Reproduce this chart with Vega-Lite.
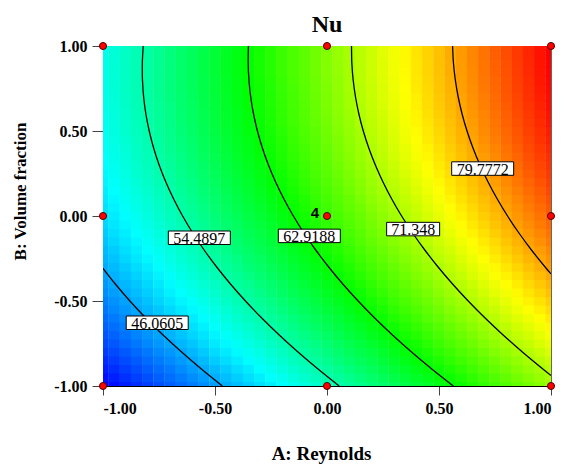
{
"$schema":"https://vega.github.io/schema/vega-lite/v6.json",
"width":448,"height":340,
"autosize":{"type":"none"},
"padding":{"left":103,"top":46,"right":13,"bottom":78},
"background":"white",
"title":{"text":"Nu","font":"Liberation Serif","fontSize":24,"fontWeight":"bold","color":"#000","anchor":"middle","offset":1,"frame":"group"},
"config":{"view":{"stroke":"#666","strokeWidth":1},"font":"Liberation Serif","title":{"font":"Liberation Serif"}},
"datasets":{
"grid":[
{"a":-1,"b":-1,"nu":37.7},{"a":-0.95,"b":-1,"nu":38.4},{"a":-0.9,"b":-1,"nu":39.2},{"a":-0.85,"b":-1,"nu":40.0},{"a":-0.8,"b":-1,"nu":40.8},{"a":-0.75,"b":-1,"nu":41.6},{"a":-0.7,"b":-1,"nu":42.4},{"a":-0.65,"b":-1,"nu":43.1},{"a":-0.6,"b":-1,"nu":43.9},{"a":-0.55,"b":-1,"nu":44.7},{"a":-0.5,"b":-1,"nu":45.5},{"a":-0.45,"b":-1,"nu":46.3},{"a":-0.4,"b":-1,"nu":47.1},{"a":-0.35,"b":-1,"nu":47.9},{"a":-0.3,"b":-1,"nu":48.7},{"a":-0.25,"b":-1,"nu":49.5},{"a":-0.2,"b":-1,"nu":50.3},{"a":-0.15,"b":-1,"nu":51.2},{"a":-0.1,"b":-1,"nu":52.0},{"a":-0.05,"b":-1,"nu":52.8},{"a":0,"b":-1,"nu":53.6},{"a":0.05,"b":-1,"nu":54.4},{"a":0.1,"b":-1,"nu":55.2},{"a":0.15,"b":-1,"nu":56.0},{"a":0.2,"b":-1,"nu":56.9},{"a":0.25,"b":-1,"nu":57.7},{"a":0.3,"b":-1,"nu":58.5},{"a":0.35,"b":-1,"nu":59.4},{"a":0.4,"b":-1,"nu":60.2},{"a":0.45,"b":-1,"nu":61.0},{"a":0.5,"b":-1,"nu":61.9},{"a":0.55,"b":-1,"nu":62.7},{"a":0.6,"b":-1,"nu":63.5},{"a":0.65,"b":-1,"nu":64.4},{"a":0.7,"b":-1,"nu":65.2},{"a":0.75,"b":-1,"nu":66.1},{"a":0.8,"b":-1,"nu":66.9},{"a":0.85,"b":-1,"nu":67.8},{"a":0.9,"b":-1,"nu":68.6},{"a":0.95,"b":-1,"nu":69.5},{"a":1,"b":-1,"nu":70.3},
{"a":-1,"b":-0.95,"nu":38.4},{"a":-0.95,"b":-0.95,"nu":39.2},{"a":-0.9,"b":-0.95,"nu":40.0},{"a":-0.85,"b":-0.95,"nu":40.8},{"a":-0.8,"b":-0.95,"nu":41.6},{"a":-0.75,"b":-0.95,"nu":42.4},{"a":-0.7,"b":-0.95,"nu":43.1},{"a":-0.65,"b":-0.95,"nu":43.9},{"a":-0.6,"b":-0.95,"nu":44.7},{"a":-0.55,"b":-0.95,"nu":45.5},{"a":-0.5,"b":-0.95,"nu":46.3},{"a":-0.45,"b":-0.95,"nu":47.1},{"a":-0.4,"b":-0.95,"nu":47.9},{"a":-0.35,"b":-0.95,"nu":48.7},{"a":-0.3,"b":-0.95,"nu":49.5},{"a":-0.25,"b":-0.95,"nu":50.3},{"a":-0.2,"b":-0.95,"nu":51.1},{"a":-0.15,"b":-0.95,"nu":52.0},{"a":-0.1,"b":-0.95,"nu":52.8},{"a":-0.05,"b":-0.95,"nu":53.6},{"a":0,"b":-0.95,"nu":54.4},{"a":0.05,"b":-0.95,"nu":55.2},{"a":0.1,"b":-0.95,"nu":56.0},{"a":0.15,"b":-0.95,"nu":56.8},{"a":0.2,"b":-0.95,"nu":57.7},{"a":0.25,"b":-0.95,"nu":58.5},{"a":0.3,"b":-0.95,"nu":59.3},{"a":0.35,"b":-0.95,"nu":60.2},{"a":0.4,"b":-0.95,"nu":61.0},{"a":0.45,"b":-0.95,"nu":61.8},{"a":0.5,"b":-0.95,"nu":62.7},{"a":0.55,"b":-0.95,"nu":63.5},{"a":0.6,"b":-0.95,"nu":64.3},{"a":0.65,"b":-0.95,"nu":65.2},{"a":0.7,"b":-0.95,"nu":66.0},{"a":0.75,"b":-0.95,"nu":66.9},{"a":0.8,"b":-0.95,"nu":67.7},{"a":0.85,"b":-0.95,"nu":68.6},{"a":0.9,"b":-0.95,"nu":69.5},{"a":0.95,"b":-0.95,"nu":70.3},{"a":1,"b":-0.95,"nu":71.2},
{"a":-1,"b":-0.9,"nu":39.1},{"a":-0.95,"b":-0.9,"nu":39.9},{"a":-0.9,"b":-0.9,"nu":40.7},{"a":-0.85,"b":-0.9,"nu":41.5},{"a":-0.8,"b":-0.9,"nu":42.3},{"a":-0.75,"b":-0.9,"nu":43.1},{"a":-0.7,"b":-0.9,"nu":43.8},{"a":-0.65,"b":-0.9,"nu":44.6},{"a":-0.6,"b":-0.9,"nu":45.4},{"a":-0.55,"b":-0.9,"nu":46.2},{"a":-0.5,"b":-0.9,"nu":47.0},{"a":-0.45,"b":-0.9,"nu":47.8},{"a":-0.4,"b":-0.9,"nu":48.6},{"a":-0.35,"b":-0.9,"nu":49.4},{"a":-0.3,"b":-0.9,"nu":50.3},{"a":-0.25,"b":-0.9,"nu":51.1},{"a":-0.2,"b":-0.9,"nu":51.9},{"a":-0.15,"b":-0.9,"nu":52.7},{"a":-0.1,"b":-0.9,"nu":53.5},{"a":-0.05,"b":-0.9,"nu":54.3},{"a":0,"b":-0.9,"nu":55.1},{"a":0.05,"b":-0.9,"nu":56.0},{"a":0.1,"b":-0.9,"nu":56.8},{"a":0.15,"b":-0.9,"nu":57.6},{"a":0.2,"b":-0.9,"nu":58.4},{"a":0.25,"b":-0.9,"nu":59.3},{"a":0.3,"b":-0.9,"nu":60.1},{"a":0.35,"b":-0.9,"nu":60.9},{"a":0.4,"b":-0.9,"nu":61.8},{"a":0.45,"b":-0.9,"nu":62.6},{"a":0.5,"b":-0.9,"nu":63.5},{"a":0.55,"b":-0.9,"nu":64.3},{"a":0.6,"b":-0.9,"nu":65.1},{"a":0.65,"b":-0.9,"nu":66.0},{"a":0.7,"b":-0.9,"nu":66.8},{"a":0.75,"b":-0.9,"nu":67.7},{"a":0.8,"b":-0.9,"nu":68.5},{"a":0.85,"b":-0.9,"nu":69.4},{"a":0.9,"b":-0.9,"nu":70.3},{"a":0.95,"b":-0.9,"nu":71.1},{"a":1,"b":-0.9,"nu":72.0},
{"a":-1,"b":-0.85,"nu":39.8},{"a":-0.95,"b":-0.85,"nu":40.6},{"a":-0.9,"b":-0.85,"nu":41.4},{"a":-0.85,"b":-0.85,"nu":42.2},{"a":-0.8,"b":-0.85,"nu":43.0},{"a":-0.75,"b":-0.85,"nu":43.8},{"a":-0.7,"b":-0.85,"nu":44.5},{"a":-0.65,"b":-0.85,"nu":45.3},{"a":-0.6,"b":-0.85,"nu":46.1},{"a":-0.55,"b":-0.85,"nu":47.0},{"a":-0.5,"b":-0.85,"nu":47.8},{"a":-0.45,"b":-0.85,"nu":48.6},{"a":-0.4,"b":-0.85,"nu":49.4},{"a":-0.35,"b":-0.85,"nu":50.2},{"a":-0.3,"b":-0.85,"nu":51.0},{"a":-0.25,"b":-0.85,"nu":51.8},{"a":-0.2,"b":-0.85,"nu":52.6},{"a":-0.15,"b":-0.85,"nu":53.5},{"a":-0.1,"b":-0.85,"nu":54.3},{"a":-0.05,"b":-0.85,"nu":55.1},{"a":0,"b":-0.85,"nu":55.9},{"a":0.05,"b":-0.85,"nu":56.8},{"a":0.1,"b":-0.85,"nu":57.6},{"a":0.15,"b":-0.85,"nu":58.4},{"a":0.2,"b":-0.85,"nu":59.2},{"a":0.25,"b":-0.85,"nu":60.1},{"a":0.3,"b":-0.85,"nu":60.9},{"a":0.35,"b":-0.85,"nu":61.7},{"a":0.4,"b":-0.85,"nu":62.6},{"a":0.45,"b":-0.85,"nu":63.4},{"a":0.5,"b":-0.85,"nu":64.3},{"a":0.55,"b":-0.85,"nu":65.1},{"a":0.6,"b":-0.85,"nu":65.9},{"a":0.65,"b":-0.85,"nu":66.8},{"a":0.7,"b":-0.85,"nu":67.6},{"a":0.75,"b":-0.85,"nu":68.5},{"a":0.8,"b":-0.85,"nu":69.3},{"a":0.85,"b":-0.85,"nu":70.2},{"a":0.9,"b":-0.85,"nu":71.1},{"a":0.95,"b":-0.85,"nu":71.9},{"a":1,"b":-0.85,"nu":72.8},
{"a":-1,"b":-0.8,"nu":40.5},{"a":-0.95,"b":-0.8,"nu":41.3},{"a":-0.9,"b":-0.8,"nu":42.1},{"a":-0.85,"b":-0.8,"nu":42.9},{"a":-0.8,"b":-0.8,"nu":43.7},{"a":-0.75,"b":-0.8,"nu":44.5},{"a":-0.7,"b":-0.8,"nu":45.2},{"a":-0.65,"b":-0.8,"nu":46.0},{"a":-0.6,"b":-0.8,"nu":46.8},{"a":-0.55,"b":-0.8,"nu":47.7},{"a":-0.5,"b":-0.8,"nu":48.5},{"a":-0.45,"b":-0.8,"nu":49.3},{"a":-0.4,"b":-0.8,"nu":50.1},{"a":-0.35,"b":-0.8,"nu":50.9},{"a":-0.3,"b":-0.8,"nu":51.7},{"a":-0.25,"b":-0.8,"nu":52.5},{"a":-0.2,"b":-0.8,"nu":53.3},{"a":-0.15,"b":-0.8,"nu":54.2},{"a":-0.1,"b":-0.8,"nu":55.0},{"a":-0.05,"b":-0.8,"nu":55.8},{"a":0,"b":-0.8,"nu":56.6},{"a":0.05,"b":-0.8,"nu":57.5},{"a":0.1,"b":-0.8,"nu":58.3},{"a":0.15,"b":-0.8,"nu":59.1},{"a":0.2,"b":-0.8,"nu":59.9},{"a":0.25,"b":-0.8,"nu":60.8},{"a":0.3,"b":-0.8,"nu":61.6},{"a":0.35,"b":-0.8,"nu":62.5},{"a":0.4,"b":-0.8,"nu":63.3},{"a":0.45,"b":-0.8,"nu":64.1},{"a":0.5,"b":-0.8,"nu":65.0},{"a":0.55,"b":-0.8,"nu":65.8},{"a":0.6,"b":-0.8,"nu":66.7},{"a":0.65,"b":-0.8,"nu":67.5},{"a":0.7,"b":-0.8,"nu":68.4},{"a":0.75,"b":-0.8,"nu":69.3},{"a":0.8,"b":-0.8,"nu":70.1},{"a":0.85,"b":-0.8,"nu":71.0},{"a":0.9,"b":-0.8,"nu":71.8},{"a":0.95,"b":-0.8,"nu":72.7},{"a":1,"b":-0.8,"nu":73.6},
{"a":-1,"b":-0.75,"nu":41.2},{"a":-0.95,"b":-0.75,"nu":42.0},{"a":-0.9,"b":-0.75,"nu":42.8},{"a":-0.85,"b":-0.75,"nu":43.6},{"a":-0.8,"b":-0.75,"nu":44.4},{"a":-0.75,"b":-0.75,"nu":45.2},{"a":-0.7,"b":-0.75,"nu":45.9},{"a":-0.65,"b":-0.75,"nu":46.7},{"a":-0.6,"b":-0.75,"nu":47.5},{"a":-0.55,"b":-0.75,"nu":48.4},{"a":-0.5,"b":-0.75,"nu":49.2},{"a":-0.45,"b":-0.75,"nu":50.0},{"a":-0.4,"b":-0.75,"nu":50.8},{"a":-0.35,"b":-0.75,"nu":51.6},{"a":-0.3,"b":-0.75,"nu":52.4},{"a":-0.25,"b":-0.75,"nu":53.2},{"a":-0.2,"b":-0.75,"nu":54.0},{"a":-0.15,"b":-0.75,"nu":54.9},{"a":-0.1,"b":-0.75,"nu":55.7},{"a":-0.05,"b":-0.75,"nu":56.5},{"a":0,"b":-0.75,"nu":57.3},{"a":0.05,"b":-0.75,"nu":58.2},{"a":0.1,"b":-0.75,"nu":59.0},{"a":0.15,"b":-0.75,"nu":59.8},{"a":0.2,"b":-0.75,"nu":60.7},{"a":0.25,"b":-0.75,"nu":61.5},{"a":0.3,"b":-0.75,"nu":62.3},{"a":0.35,"b":-0.75,"nu":63.2},{"a":0.4,"b":-0.75,"nu":64.0},{"a":0.45,"b":-0.75,"nu":64.9},{"a":0.5,"b":-0.75,"nu":65.7},{"a":0.55,"b":-0.75,"nu":66.6},{"a":0.6,"b":-0.75,"nu":67.4},{"a":0.65,"b":-0.75,"nu":68.3},{"a":0.7,"b":-0.75,"nu":69.2},{"a":0.75,"b":-0.75,"nu":70.0},{"a":0.8,"b":-0.75,"nu":70.9},{"a":0.85,"b":-0.75,"nu":71.8},{"a":0.9,"b":-0.75,"nu":72.6},{"a":0.95,"b":-0.75,"nu":73.5},{"a":1,"b":-0.75,"nu":74.4},
{"a":-1,"b":-0.7,"nu":41.8},{"a":-0.95,"b":-0.7,"nu":42.6},{"a":-0.9,"b":-0.7,"nu":43.4},{"a":-0.85,"b":-0.7,"nu":44.2},{"a":-0.8,"b":-0.7,"nu":45.0},{"a":-0.75,"b":-0.7,"nu":45.8},{"a":-0.7,"b":-0.7,"nu":46.6},{"a":-0.65,"b":-0.7,"nu":47.4},{"a":-0.6,"b":-0.7,"nu":48.2},{"a":-0.55,"b":-0.7,"nu":49.0},{"a":-0.5,"b":-0.7,"nu":49.8},{"a":-0.45,"b":-0.7,"nu":50.6},{"a":-0.4,"b":-0.7,"nu":51.4},{"a":-0.35,"b":-0.7,"nu":52.2},{"a":-0.3,"b":-0.7,"nu":53.1},{"a":-0.25,"b":-0.7,"nu":53.9},{"a":-0.2,"b":-0.7,"nu":54.7},{"a":-0.15,"b":-0.7,"nu":55.5},{"a":-0.1,"b":-0.7,"nu":56.4},{"a":-0.05,"b":-0.7,"nu":57.2},{"a":0,"b":-0.7,"nu":58.0},{"a":0.05,"b":-0.7,"nu":58.9},{"a":0.1,"b":-0.7,"nu":59.7},{"a":0.15,"b":-0.7,"nu":60.5},{"a":0.2,"b":-0.7,"nu":61.4},{"a":0.25,"b":-0.7,"nu":62.2},{"a":0.3,"b":-0.7,"nu":63.0},{"a":0.35,"b":-0.7,"nu":63.9},{"a":0.4,"b":-0.7,"nu":64.7},{"a":0.45,"b":-0.7,"nu":65.6},{"a":0.5,"b":-0.7,"nu":66.4},{"a":0.55,"b":-0.7,"nu":67.3},{"a":0.6,"b":-0.7,"nu":68.1},{"a":0.65,"b":-0.7,"nu":69.0},{"a":0.7,"b":-0.7,"nu":69.9},{"a":0.75,"b":-0.7,"nu":70.7},{"a":0.8,"b":-0.7,"nu":71.6},{"a":0.85,"b":-0.7,"nu":72.5},{"a":0.9,"b":-0.7,"nu":73.3},{"a":0.95,"b":-0.7,"nu":74.2},{"a":1,"b":-0.7,"nu":75.1},
{"a":-1,"b":-0.65,"nu":42.4},{"a":-0.95,"b":-0.65,"nu":43.2},{"a":-0.9,"b":-0.65,"nu":44.0},{"a":-0.85,"b":-0.65,"nu":44.8},{"a":-0.8,"b":-0.65,"nu":45.6},{"a":-0.75,"b":-0.65,"nu":46.4},{"a":-0.7,"b":-0.65,"nu":47.2},{"a":-0.65,"b":-0.65,"nu":48.0},{"a":-0.6,"b":-0.65,"nu":48.8},{"a":-0.55,"b":-0.65,"nu":49.6},{"a":-0.5,"b":-0.65,"nu":50.5},{"a":-0.45,"b":-0.65,"nu":51.3},{"a":-0.4,"b":-0.65,"nu":52.1},{"a":-0.35,"b":-0.65,"nu":52.9},{"a":-0.3,"b":-0.65,"nu":53.7},{"a":-0.25,"b":-0.65,"nu":54.6},{"a":-0.2,"b":-0.65,"nu":55.4},{"a":-0.15,"b":-0.65,"nu":56.2},{"a":-0.1,"b":-0.65,"nu":57.1},{"a":-0.05,"b":-0.65,"nu":57.9},{"a":0,"b":-0.65,"nu":58.7},{"a":0.05,"b":-0.65,"nu":59.6},{"a":0.1,"b":-0.65,"nu":60.4},{"a":0.15,"b":-0.65,"nu":61.2},{"a":0.2,"b":-0.65,"nu":62.1},{"a":0.25,"b":-0.65,"nu":62.9},{"a":0.3,"b":-0.65,"nu":63.7},{"a":0.35,"b":-0.65,"nu":64.6},{"a":0.4,"b":-0.65,"nu":65.4},{"a":0.45,"b":-0.65,"nu":66.3},{"a":0.5,"b":-0.65,"nu":67.1},{"a":0.55,"b":-0.65,"nu":68.0},{"a":0.6,"b":-0.65,"nu":68.8},{"a":0.65,"b":-0.65,"nu":69.7},{"a":0.7,"b":-0.65,"nu":70.6},{"a":0.75,"b":-0.65,"nu":71.4},{"a":0.8,"b":-0.65,"nu":72.3},{"a":0.85,"b":-0.65,"nu":73.2},{"a":0.9,"b":-0.65,"nu":74.0},{"a":0.95,"b":-0.65,"nu":74.9},{"a":1,"b":-0.65,"nu":75.8},
{"a":-1,"b":-0.6,"nu":43.0},{"a":-0.95,"b":-0.6,"nu":43.8},{"a":-0.9,"b":-0.6,"nu":44.6},{"a":-0.85,"b":-0.6,"nu":45.4},{"a":-0.8,"b":-0.6,"nu":46.2},{"a":-0.75,"b":-0.6,"nu":47.0},{"a":-0.7,"b":-0.6,"nu":47.8},{"a":-0.65,"b":-0.6,"nu":48.6},{"a":-0.6,"b":-0.6,"nu":49.4},{"a":-0.55,"b":-0.6,"nu":50.2},{"a":-0.5,"b":-0.6,"nu":51.1},{"a":-0.45,"b":-0.6,"nu":51.9},{"a":-0.4,"b":-0.6,"nu":52.7},{"a":-0.35,"b":-0.6,"nu":53.5},{"a":-0.3,"b":-0.6,"nu":54.3},{"a":-0.25,"b":-0.6,"nu":55.2},{"a":-0.2,"b":-0.6,"nu":56.0},{"a":-0.15,"b":-0.6,"nu":56.8},{"a":-0.1,"b":-0.6,"nu":57.7},{"a":-0.05,"b":-0.6,"nu":58.5},{"a":0,"b":-0.6,"nu":59.3},{"a":0.05,"b":-0.6,"nu":60.2},{"a":0.1,"b":-0.6,"nu":61.0},{"a":0.15,"b":-0.6,"nu":61.9},{"a":0.2,"b":-0.6,"nu":62.7},{"a":0.25,"b":-0.6,"nu":63.5},{"a":0.3,"b":-0.6,"nu":64.4},{"a":0.35,"b":-0.6,"nu":65.2},{"a":0.4,"b":-0.6,"nu":66.1},{"a":0.45,"b":-0.6,"nu":67.0},{"a":0.5,"b":-0.6,"nu":67.8},{"a":0.55,"b":-0.6,"nu":68.7},{"a":0.6,"b":-0.6,"nu":69.5},{"a":0.65,"b":-0.6,"nu":70.4},{"a":0.7,"b":-0.6,"nu":71.3},{"a":0.75,"b":-0.6,"nu":72.1},{"a":0.8,"b":-0.6,"nu":73.0},{"a":0.85,"b":-0.6,"nu":73.9},{"a":0.9,"b":-0.6,"nu":74.7},{"a":0.95,"b":-0.6,"nu":75.6},{"a":1,"b":-0.6,"nu":76.5},
{"a":-1,"b":-0.55,"nu":43.6},{"a":-0.95,"b":-0.55,"nu":44.4},{"a":-0.9,"b":-0.55,"nu":45.2},{"a":-0.85,"b":-0.55,"nu":46.0},{"a":-0.8,"b":-0.55,"nu":46.8},{"a":-0.75,"b":-0.55,"nu":47.6},{"a":-0.7,"b":-0.55,"nu":48.4},{"a":-0.65,"b":-0.55,"nu":49.2},{"a":-0.6,"b":-0.55,"nu":50.0},{"a":-0.55,"b":-0.55,"nu":50.8},{"a":-0.5,"b":-0.55,"nu":51.7},{"a":-0.45,"b":-0.55,"nu":52.5},{"a":-0.4,"b":-0.55,"nu":53.3},{"a":-0.35,"b":-0.55,"nu":54.1},{"a":-0.3,"b":-0.55,"nu":55.0},{"a":-0.25,"b":-0.55,"nu":55.8},{"a":-0.2,"b":-0.55,"nu":56.6},{"a":-0.15,"b":-0.55,"nu":57.5},{"a":-0.1,"b":-0.55,"nu":58.3},{"a":-0.05,"b":-0.55,"nu":59.1},{"a":0,"b":-0.55,"nu":60.0},{"a":0.05,"b":-0.55,"nu":60.8},{"a":0.1,"b":-0.55,"nu":61.7},{"a":0.15,"b":-0.55,"nu":62.5},{"a":0.2,"b":-0.55,"nu":63.4},{"a":0.25,"b":-0.55,"nu":64.2},{"a":0.3,"b":-0.55,"nu":65.1},{"a":0.35,"b":-0.55,"nu":65.9},{"a":0.4,"b":-0.55,"nu":66.8},{"a":0.45,"b":-0.55,"nu":67.6},{"a":0.5,"b":-0.55,"nu":68.5},{"a":0.55,"b":-0.55,"nu":69.4},{"a":0.6,"b":-0.55,"nu":70.2},{"a":0.65,"b":-0.55,"nu":71.1},{"a":0.7,"b":-0.55,"nu":72.0},{"a":0.75,"b":-0.55,"nu":72.8},{"a":0.8,"b":-0.55,"nu":73.7},{"a":0.85,"b":-0.55,"nu":74.6},{"a":0.9,"b":-0.55,"nu":75.4},{"a":0.95,"b":-0.55,"nu":76.3},{"a":1,"b":-0.55,"nu":77.2},
{"a":-1,"b":-0.5,"nu":44.1},{"a":-0.95,"b":-0.5,"nu":44.9},{"a":-0.9,"b":-0.5,"nu":45.7},{"a":-0.85,"b":-0.5,"nu":46.5},{"a":-0.8,"b":-0.5,"nu":47.3},{"a":-0.75,"b":-0.5,"nu":48.2},{"a":-0.7,"b":-0.5,"nu":49.0},{"a":-0.65,"b":-0.5,"nu":49.8},{"a":-0.6,"b":-0.5,"nu":50.6},{"a":-0.55,"b":-0.5,"nu":51.4},{"a":-0.5,"b":-0.5,"nu":52.2},{"a":-0.45,"b":-0.5,"nu":53.1},{"a":-0.4,"b":-0.5,"nu":53.9},{"a":-0.35,"b":-0.5,"nu":54.7},{"a":-0.3,"b":-0.5,"nu":55.6},{"a":-0.25,"b":-0.5,"nu":56.4},{"a":-0.2,"b":-0.5,"nu":57.2},{"a":-0.15,"b":-0.5,"nu":58.1},{"a":-0.1,"b":-0.5,"nu":58.9},{"a":-0.05,"b":-0.5,"nu":59.7},{"a":0,"b":-0.5,"nu":60.6},{"a":0.05,"b":-0.5,"nu":61.4},{"a":0.1,"b":-0.5,"nu":62.3},{"a":0.15,"b":-0.5,"nu":63.1},{"a":0.2,"b":-0.5,"nu":64.0},{"a":0.25,"b":-0.5,"nu":64.8},{"a":0.3,"b":-0.5,"nu":65.7},{"a":0.35,"b":-0.5,"nu":66.5},{"a":0.4,"b":-0.5,"nu":67.4},{"a":0.45,"b":-0.5,"nu":68.2},{"a":0.5,"b":-0.5,"nu":69.1},{"a":0.55,"b":-0.5,"nu":70.0},{"a":0.6,"b":-0.5,"nu":70.8},{"a":0.65,"b":-0.5,"nu":71.7},{"a":0.7,"b":-0.5,"nu":72.6},{"a":0.75,"b":-0.5,"nu":73.4},{"a":0.8,"b":-0.5,"nu":74.3},{"a":0.85,"b":-0.5,"nu":75.2},{"a":0.9,"b":-0.5,"nu":76.1},{"a":0.95,"b":-0.5,"nu":76.9},{"a":1,"b":-0.5,"nu":77.8},
{"a":-1,"b":-0.45,"nu":44.7},{"a":-0.95,"b":-0.45,"nu":45.5},{"a":-0.9,"b":-0.45,"nu":46.3},{"a":-0.85,"b":-0.45,"nu":47.1},{"a":-0.8,"b":-0.45,"nu":47.9},{"a":-0.75,"b":-0.45,"nu":48.7},{"a":-0.7,"b":-0.45,"nu":49.6},{"a":-0.65,"b":-0.45,"nu":50.4},{"a":-0.6,"b":-0.45,"nu":51.2},{"a":-0.55,"b":-0.45,"nu":52.0},{"a":-0.5,"b":-0.45,"nu":52.8},{"a":-0.45,"b":-0.45,"nu":53.7},{"a":-0.4,"b":-0.45,"nu":54.5},{"a":-0.35,"b":-0.45,"nu":55.3},{"a":-0.3,"b":-0.45,"nu":56.2},{"a":-0.25,"b":-0.45,"nu":57.0},{"a":-0.2,"b":-0.45,"nu":57.8},{"a":-0.15,"b":-0.45,"nu":58.7},{"a":-0.1,"b":-0.45,"nu":59.5},{"a":-0.05,"b":-0.45,"nu":60.3},{"a":0,"b":-0.45,"nu":61.2},{"a":0.05,"b":-0.45,"nu":62.0},{"a":0.1,"b":-0.45,"nu":62.9},{"a":0.15,"b":-0.45,"nu":63.7},{"a":0.2,"b":-0.45,"nu":64.6},{"a":0.25,"b":-0.45,"nu":65.4},{"a":0.3,"b":-0.45,"nu":66.3},{"a":0.35,"b":-0.45,"nu":67.1},{"a":0.4,"b":-0.45,"nu":68.0},{"a":0.45,"b":-0.45,"nu":68.8},{"a":0.5,"b":-0.45,"nu":69.7},{"a":0.55,"b":-0.45,"nu":70.6},{"a":0.6,"b":-0.45,"nu":71.4},{"a":0.65,"b":-0.45,"nu":72.3},{"a":0.7,"b":-0.45,"nu":73.2},{"a":0.75,"b":-0.45,"nu":74.1},{"a":0.8,"b":-0.45,"nu":74.9},{"a":0.85,"b":-0.45,"nu":75.8},{"a":0.9,"b":-0.45,"nu":76.7},{"a":0.95,"b":-0.45,"nu":77.6},{"a":1,"b":-0.45,"nu":78.5},
{"a":-1,"b":-0.4,"nu":45.2},{"a":-0.95,"b":-0.4,"nu":46.0},{"a":-0.9,"b":-0.4,"nu":46.8},{"a":-0.85,"b":-0.4,"nu":47.6},{"a":-0.8,"b":-0.4,"nu":48.4},{"a":-0.75,"b":-0.4,"nu":49.2},{"a":-0.7,"b":-0.4,"nu":50.1},{"a":-0.65,"b":-0.4,"nu":50.9},{"a":-0.6,"b":-0.4,"nu":51.7},{"a":-0.55,"b":-0.4,"nu":52.5},{"a":-0.5,"b":-0.4,"nu":53.3},{"a":-0.45,"b":-0.4,"nu":54.2},{"a":-0.4,"b":-0.4,"nu":55.0},{"a":-0.35,"b":-0.4,"nu":55.8},{"a":-0.3,"b":-0.4,"nu":56.7},{"a":-0.25,"b":-0.4,"nu":57.5},{"a":-0.2,"b":-0.4,"nu":58.3},{"a":-0.15,"b":-0.4,"nu":59.2},{"a":-0.1,"b":-0.4,"nu":60.0},{"a":-0.05,"b":-0.4,"nu":60.9},{"a":0,"b":-0.4,"nu":61.7},{"a":0.05,"b":-0.4,"nu":62.6},{"a":0.1,"b":-0.4,"nu":63.4},{"a":0.15,"b":-0.4,"nu":64.3},{"a":0.2,"b":-0.4,"nu":65.1},{"a":0.25,"b":-0.4,"nu":66.0},{"a":0.3,"b":-0.4,"nu":66.8},{"a":0.35,"b":-0.4,"nu":67.7},{"a":0.4,"b":-0.4,"nu":68.6},{"a":0.45,"b":-0.4,"nu":69.4},{"a":0.5,"b":-0.4,"nu":70.3},{"a":0.55,"b":-0.4,"nu":71.2},{"a":0.6,"b":-0.4,"nu":72.0},{"a":0.65,"b":-0.4,"nu":72.9},{"a":0.7,"b":-0.4,"nu":73.8},{"a":0.75,"b":-0.4,"nu":74.7},{"a":0.8,"b":-0.4,"nu":75.5},{"a":0.85,"b":-0.4,"nu":76.4},{"a":0.9,"b":-0.4,"nu":77.3},{"a":0.95,"b":-0.4,"nu":78.2},{"a":1,"b":-0.4,"nu":79.1},
{"a":-1,"b":-0.35,"nu":45.7},{"a":-0.95,"b":-0.35,"nu":46.5},{"a":-0.9,"b":-0.35,"nu":47.3},{"a":-0.85,"b":-0.35,"nu":48.1},{"a":-0.8,"b":-0.35,"nu":48.9},{"a":-0.75,"b":-0.35,"nu":49.7},{"a":-0.7,"b":-0.35,"nu":50.6},{"a":-0.65,"b":-0.35,"nu":51.4},{"a":-0.6,"b":-0.35,"nu":52.2},{"a":-0.55,"b":-0.35,"nu":53.0},{"a":-0.5,"b":-0.35,"nu":53.9},{"a":-0.45,"b":-0.35,"nu":54.7},{"a":-0.4,"b":-0.35,"nu":55.5},{"a":-0.35,"b":-0.35,"nu":56.4},{"a":-0.3,"b":-0.35,"nu":57.2},{"a":-0.25,"b":-0.35,"nu":58.1},{"a":-0.2,"b":-0.35,"nu":58.9},{"a":-0.15,"b":-0.35,"nu":59.7},{"a":-0.1,"b":-0.35,"nu":60.6},{"a":-0.05,"b":-0.35,"nu":61.4},{"a":0,"b":-0.35,"nu":62.3},{"a":0.05,"b":-0.35,"nu":63.1},{"a":0.1,"b":-0.35,"nu":64.0},{"a":0.15,"b":-0.35,"nu":64.9},{"a":0.2,"b":-0.35,"nu":65.7},{"a":0.25,"b":-0.35,"nu":66.6},{"a":0.3,"b":-0.35,"nu":67.4},{"a":0.35,"b":-0.35,"nu":68.3},{"a":0.4,"b":-0.35,"nu":69.2},{"a":0.45,"b":-0.35,"nu":70.0},{"a":0.5,"b":-0.35,"nu":70.9},{"a":0.55,"b":-0.35,"nu":71.8},{"a":0.6,"b":-0.35,"nu":72.6},{"a":0.65,"b":-0.35,"nu":73.5},{"a":0.7,"b":-0.35,"nu":74.4},{"a":0.75,"b":-0.35,"nu":75.3},{"a":0.8,"b":-0.35,"nu":76.1},{"a":0.85,"b":-0.35,"nu":77.0},{"a":0.9,"b":-0.35,"nu":77.9},{"a":0.95,"b":-0.35,"nu":78.8},{"a":1,"b":-0.35,"nu":79.7},
{"a":-1,"b":-0.3,"nu":46.1},{"a":-0.95,"b":-0.3,"nu":47.0},{"a":-0.9,"b":-0.3,"nu":47.8},{"a":-0.85,"b":-0.3,"nu":48.6},{"a":-0.8,"b":-0.3,"nu":49.4},{"a":-0.75,"b":-0.3,"nu":50.2},{"a":-0.7,"b":-0.3,"nu":51.1},{"a":-0.65,"b":-0.3,"nu":51.9},{"a":-0.6,"b":-0.3,"nu":52.7},{"a":-0.55,"b":-0.3,"nu":53.5},{"a":-0.5,"b":-0.3,"nu":54.4},{"a":-0.45,"b":-0.3,"nu":55.2},{"a":-0.4,"b":-0.3,"nu":56.0},{"a":-0.35,"b":-0.3,"nu":56.9},{"a":-0.3,"b":-0.3,"nu":57.7},{"a":-0.25,"b":-0.3,"nu":58.6},{"a":-0.2,"b":-0.3,"nu":59.4},{"a":-0.15,"b":-0.3,"nu":60.2},{"a":-0.1,"b":-0.3,"nu":61.1},{"a":-0.05,"b":-0.3,"nu":61.9},{"a":0,"b":-0.3,"nu":62.8},{"a":0.05,"b":-0.3,"nu":63.6},{"a":0.1,"b":-0.3,"nu":64.5},{"a":0.15,"b":-0.3,"nu":65.4},{"a":0.2,"b":-0.3,"nu":66.2},{"a":0.25,"b":-0.3,"nu":67.1},{"a":0.3,"b":-0.3,"nu":67.9},{"a":0.35,"b":-0.3,"nu":68.8},{"a":0.4,"b":-0.3,"nu":69.7},{"a":0.45,"b":-0.3,"nu":70.6},{"a":0.5,"b":-0.3,"nu":71.4},{"a":0.55,"b":-0.3,"nu":72.3},{"a":0.6,"b":-0.3,"nu":73.2},{"a":0.65,"b":-0.3,"nu":74.0},{"a":0.7,"b":-0.3,"nu":74.9},{"a":0.75,"b":-0.3,"nu":75.8},{"a":0.8,"b":-0.3,"nu":76.7},{"a":0.85,"b":-0.3,"nu":77.6},{"a":0.9,"b":-0.3,"nu":78.5},{"a":0.95,"b":-0.3,"nu":79.4},{"a":1,"b":-0.3,"nu":80.3},
{"a":-1,"b":-0.25,"nu":46.6},{"a":-0.95,"b":-0.25,"nu":47.4},{"a":-0.9,"b":-0.25,"nu":48.3},{"a":-0.85,"b":-0.25,"nu":49.1},{"a":-0.8,"b":-0.25,"nu":49.9},{"a":-0.75,"b":-0.25,"nu":50.7},{"a":-0.7,"b":-0.25,"nu":51.6},{"a":-0.65,"b":-0.25,"nu":52.4},{"a":-0.6,"b":-0.25,"nu":53.2},{"a":-0.55,"b":-0.25,"nu":54.0},{"a":-0.5,"b":-0.25,"nu":54.9},{"a":-0.45,"b":-0.25,"nu":55.7},{"a":-0.4,"b":-0.25,"nu":56.5},{"a":-0.35,"b":-0.25,"nu":57.4},{"a":-0.3,"b":-0.25,"nu":58.2},{"a":-0.25,"b":-0.25,"nu":59.1},{"a":-0.2,"b":-0.25,"nu":59.9},{"a":-0.15,"b":-0.25,"nu":60.7},{"a":-0.1,"b":-0.25,"nu":61.6},{"a":-0.05,"b":-0.25,"nu":62.4},{"a":0,"b":-0.25,"nu":63.3},{"a":0.05,"b":-0.25,"nu":64.1},{"a":0.1,"b":-0.25,"nu":65.0},{"a":0.15,"b":-0.25,"nu":65.9},{"a":0.2,"b":-0.25,"nu":66.7},{"a":0.25,"b":-0.25,"nu":67.6},{"a":0.3,"b":-0.25,"nu":68.5},{"a":0.35,"b":-0.25,"nu":69.3},{"a":0.4,"b":-0.25,"nu":70.2},{"a":0.45,"b":-0.25,"nu":71.1},{"a":0.5,"b":-0.25,"nu":72.0},{"a":0.55,"b":-0.25,"nu":72.8},{"a":0.6,"b":-0.25,"nu":73.7},{"a":0.65,"b":-0.25,"nu":74.6},{"a":0.7,"b":-0.25,"nu":75.5},{"a":0.75,"b":-0.25,"nu":76.4},{"a":0.8,"b":-0.25,"nu":77.3},{"a":0.85,"b":-0.25,"nu":78.2},{"a":0.9,"b":-0.25,"nu":79.1},{"a":0.95,"b":-0.25,"nu":79.9},{"a":1,"b":-0.25,"nu":80.8},
{"a":-1,"b":-0.2,"nu":47.0},{"a":-0.95,"b":-0.2,"nu":47.8},{"a":-0.9,"b":-0.2,"nu":48.7},{"a":-0.85,"b":-0.2,"nu":49.5},{"a":-0.8,"b":-0.2,"nu":50.3},{"a":-0.75,"b":-0.2,"nu":51.1},{"a":-0.7,"b":-0.2,"nu":52.0},{"a":-0.65,"b":-0.2,"nu":52.8},{"a":-0.6,"b":-0.2,"nu":53.6},{"a":-0.55,"b":-0.2,"nu":54.5},{"a":-0.5,"b":-0.2,"nu":55.3},{"a":-0.45,"b":-0.2,"nu":56.1},{"a":-0.4,"b":-0.2,"nu":57.0},{"a":-0.35,"b":-0.2,"nu":57.8},{"a":-0.3,"b":-0.2,"nu":58.7},{"a":-0.25,"b":-0.2,"nu":59.5},{"a":-0.2,"b":-0.2,"nu":60.4},{"a":-0.15,"b":-0.2,"nu":61.2},{"a":-0.1,"b":-0.2,"nu":62.1},{"a":-0.05,"b":-0.2,"nu":62.9},{"a":0,"b":-0.2,"nu":63.8},{"a":0.05,"b":-0.2,"nu":64.6},{"a":0.1,"b":-0.2,"nu":65.5},{"a":0.15,"b":-0.2,"nu":66.4},{"a":0.2,"b":-0.2,"nu":67.2},{"a":0.25,"b":-0.2,"nu":68.1},{"a":0.3,"b":-0.2,"nu":69.0},{"a":0.35,"b":-0.2,"nu":69.8},{"a":0.4,"b":-0.2,"nu":70.7},{"a":0.45,"b":-0.2,"nu":71.6},{"a":0.5,"b":-0.2,"nu":72.5},{"a":0.55,"b":-0.2,"nu":73.3},{"a":0.6,"b":-0.2,"nu":74.2},{"a":0.65,"b":-0.2,"nu":75.1},{"a":0.7,"b":-0.2,"nu":76.0},{"a":0.75,"b":-0.2,"nu":76.9},{"a":0.8,"b":-0.2,"nu":77.8},{"a":0.85,"b":-0.2,"nu":78.7},{"a":0.9,"b":-0.2,"nu":79.6},{"a":0.95,"b":-0.2,"nu":80.4},{"a":1,"b":-0.2,"nu":81.3},
{"a":-1,"b":-0.15,"nu":47.4},{"a":-0.95,"b":-0.15,"nu":48.3},{"a":-0.9,"b":-0.15,"nu":49.1},{"a":-0.85,"b":-0.15,"nu":49.9},{"a":-0.8,"b":-0.15,"nu":50.7},{"a":-0.75,"b":-0.15,"nu":51.6},{"a":-0.7,"b":-0.15,"nu":52.4},{"a":-0.65,"b":-0.15,"nu":53.2},{"a":-0.6,"b":-0.15,"nu":54.1},{"a":-0.55,"b":-0.15,"nu":54.9},{"a":-0.5,"b":-0.15,"nu":55.8},{"a":-0.45,"b":-0.15,"nu":56.6},{"a":-0.4,"b":-0.15,"nu":57.4},{"a":-0.35,"b":-0.15,"nu":58.3},{"a":-0.3,"b":-0.15,"nu":59.1},{"a":-0.25,"b":-0.15,"nu":60.0},{"a":-0.2,"b":-0.15,"nu":60.9},{"a":-0.15,"b":-0.15,"nu":61.7},{"a":-0.1,"b":-0.15,"nu":62.6},{"a":-0.05,"b":-0.15,"nu":63.4},{"a":0,"b":-0.15,"nu":64.3},{"a":0.05,"b":-0.15,"nu":65.1},{"a":0.1,"b":-0.15,"nu":66.0},{"a":0.15,"b":-0.15,"nu":66.9},{"a":0.2,"b":-0.15,"nu":67.7},{"a":0.25,"b":-0.15,"nu":68.6},{"a":0.3,"b":-0.15,"nu":69.5},{"a":0.35,"b":-0.15,"nu":70.3},{"a":0.4,"b":-0.15,"nu":71.2},{"a":0.45,"b":-0.15,"nu":72.1},{"a":0.5,"b":-0.15,"nu":73.0},{"a":0.55,"b":-0.15,"nu":73.8},{"a":0.6,"b":-0.15,"nu":74.7},{"a":0.65,"b":-0.15,"nu":75.6},{"a":0.7,"b":-0.15,"nu":76.5},{"a":0.75,"b":-0.15,"nu":77.4},{"a":0.8,"b":-0.15,"nu":78.3},{"a":0.85,"b":-0.15,"nu":79.2},{"a":0.9,"b":-0.15,"nu":80.1},{"a":0.95,"b":-0.15,"nu":81.0},{"a":1,"b":-0.15,"nu":81.9},
{"a":-1,"b":-0.1,"nu":47.8},{"a":-0.95,"b":-0.1,"nu":48.7},{"a":-0.9,"b":-0.1,"nu":49.5},{"a":-0.85,"b":-0.1,"nu":50.3},{"a":-0.8,"b":-0.1,"nu":51.1},{"a":-0.75,"b":-0.1,"nu":52.0},{"a":-0.7,"b":-0.1,"nu":52.8},{"a":-0.65,"b":-0.1,"nu":53.6},{"a":-0.6,"b":-0.1,"nu":54.5},{"a":-0.55,"b":-0.1,"nu":55.3},{"a":-0.5,"b":-0.1,"nu":56.2},{"a":-0.45,"b":-0.1,"nu":57.0},{"a":-0.4,"b":-0.1,"nu":57.8},{"a":-0.35,"b":-0.1,"nu":58.7},{"a":-0.3,"b":-0.1,"nu":59.5},{"a":-0.25,"b":-0.1,"nu":60.4},{"a":-0.2,"b":-0.1,"nu":61.3},{"a":-0.15,"b":-0.1,"nu":62.1},{"a":-0.1,"b":-0.1,"nu":63.0},{"a":-0.05,"b":-0.1,"nu":63.8},{"a":0,"b":-0.1,"nu":64.7},{"a":0.05,"b":-0.1,"nu":65.6},{"a":0.1,"b":-0.1,"nu":66.4},{"a":0.15,"b":-0.1,"nu":67.3},{"a":0.2,"b":-0.1,"nu":68.2},{"a":0.25,"b":-0.1,"nu":69.0},{"a":0.3,"b":-0.1,"nu":69.9},{"a":0.35,"b":-0.1,"nu":70.8},{"a":0.4,"b":-0.1,"nu":71.7},{"a":0.45,"b":-0.1,"nu":72.5},{"a":0.5,"b":-0.1,"nu":73.4},{"a":0.55,"b":-0.1,"nu":74.3},{"a":0.6,"b":-0.1,"nu":75.2},{"a":0.65,"b":-0.1,"nu":76.1},{"a":0.7,"b":-0.1,"nu":77.0},{"a":0.75,"b":-0.1,"nu":77.9},{"a":0.8,"b":-0.1,"nu":78.8},{"a":0.85,"b":-0.1,"nu":79.7},{"a":0.9,"b":-0.1,"nu":80.6},{"a":0.95,"b":-0.1,"nu":81.5},{"a":1,"b":-0.1,"nu":82.4},
{"a":-1,"b":-0.05,"nu":48.2},{"a":-0.95,"b":-0.05,"nu":49.1},{"a":-0.9,"b":-0.05,"nu":49.9},{"a":-0.85,"b":-0.05,"nu":50.7},{"a":-0.8,"b":-0.05,"nu":51.5},{"a":-0.75,"b":-0.05,"nu":52.4},{"a":-0.7,"b":-0.05,"nu":53.2},{"a":-0.65,"b":-0.05,"nu":54.0},{"a":-0.6,"b":-0.05,"nu":54.9},{"a":-0.55,"b":-0.05,"nu":55.7},{"a":-0.5,"b":-0.05,"nu":56.6},{"a":-0.45,"b":-0.05,"nu":57.4},{"a":-0.4,"b":-0.05,"nu":58.2},{"a":-0.35,"b":-0.05,"nu":59.1},{"a":-0.3,"b":-0.05,"nu":59.9},{"a":-0.25,"b":-0.05,"nu":60.8},{"a":-0.2,"b":-0.05,"nu":61.7},{"a":-0.15,"b":-0.05,"nu":62.5},{"a":-0.1,"b":-0.05,"nu":63.4},{"a":-0.05,"b":-0.05,"nu":64.3},{"a":0,"b":-0.05,"nu":65.1},{"a":0.05,"b":-0.05,"nu":66.0},{"a":0.1,"b":-0.05,"nu":66.9},{"a":0.15,"b":-0.05,"nu":67.7},{"a":0.2,"b":-0.05,"nu":68.6},{"a":0.25,"b":-0.05,"nu":69.5},{"a":0.3,"b":-0.05,"nu":70.4},{"a":0.35,"b":-0.05,"nu":71.2},{"a":0.4,"b":-0.05,"nu":72.1},{"a":0.45,"b":-0.05,"nu":73.0},{"a":0.5,"b":-0.05,"nu":73.9},{"a":0.55,"b":-0.05,"nu":74.8},{"a":0.6,"b":-0.05,"nu":75.7},{"a":0.65,"b":-0.05,"nu":76.6},{"a":0.7,"b":-0.05,"nu":77.5},{"a":0.75,"b":-0.05,"nu":78.4},{"a":0.8,"b":-0.05,"nu":79.3},{"a":0.85,"b":-0.05,"nu":80.2},{"a":0.9,"b":-0.05,"nu":81.1},{"a":0.95,"b":-0.05,"nu":82.0},{"a":1,"b":-0.05,"nu":82.9},
{"a":-1,"b":0,"nu":48.6},{"a":-0.95,"b":0,"nu":49.4},{"a":-0.9,"b":0,"nu":50.2},{"a":-0.85,"b":0,"nu":51.0},{"a":-0.8,"b":0,"nu":51.9},{"a":-0.75,"b":0,"nu":52.7},{"a":-0.7,"b":0,"nu":53.6},{"a":-0.65,"b":0,"nu":54.4},{"a":-0.6,"b":0,"nu":55.2},{"a":-0.55,"b":0,"nu":56.1},{"a":-0.5,"b":0,"nu":56.9},{"a":-0.45,"b":0,"nu":57.8},{"a":-0.4,"b":0,"nu":58.6},{"a":-0.35,"b":0,"nu":59.5},{"a":-0.3,"b":0,"nu":60.3},{"a":-0.25,"b":0,"nu":61.2},{"a":-0.2,"b":0,"nu":62.1},{"a":-0.15,"b":0,"nu":62.9},{"a":-0.1,"b":0,"nu":63.8},{"a":-0.05,"b":0,"nu":64.7},{"a":0,"b":0,"nu":65.5},{"a":0.05,"b":0,"nu":66.4},{"a":0.1,"b":0,"nu":67.3},{"a":0.15,"b":0,"nu":68.1},{"a":0.2,"b":0,"nu":69.0},{"a":0.25,"b":0,"nu":69.9},{"a":0.3,"b":0,"nu":70.8},{"a":0.35,"b":0,"nu":71.6},{"a":0.4,"b":0,"nu":72.5},{"a":0.45,"b":0,"nu":73.4},{"a":0.5,"b":0,"nu":74.3},{"a":0.55,"b":0,"nu":75.2},{"a":0.6,"b":0,"nu":76.1},{"a":0.65,"b":0,"nu":77.0},{"a":0.7,"b":0,"nu":77.9},{"a":0.75,"b":0,"nu":78.8},{"a":0.8,"b":0,"nu":79.7},{"a":0.85,"b":0,"nu":80.6},{"a":0.9,"b":0,"nu":81.5},{"a":0.95,"b":0,"nu":82.4},{"a":1,"b":0,"nu":83.3},
{"a":-1,"b":0.05,"nu":48.9},{"a":-0.95,"b":0.05,"nu":49.7},{"a":-0.9,"b":0.05,"nu":50.6},{"a":-0.85,"b":0.05,"nu":51.4},{"a":-0.8,"b":0.05,"nu":52.2},{"a":-0.75,"b":0.05,"nu":53.1},{"a":-0.7,"b":0.05,"nu":53.9},{"a":-0.65,"b":0.05,"nu":54.8},{"a":-0.6,"b":0.05,"nu":55.6},{"a":-0.55,"b":0.05,"nu":56.5},{"a":-0.5,"b":0.05,"nu":57.3},{"a":-0.45,"b":0.05,"nu":58.2},{"a":-0.4,"b":0.05,"nu":59.0},{"a":-0.35,"b":0.05,"nu":59.9},{"a":-0.3,"b":0.05,"nu":60.7},{"a":-0.25,"b":0.05,"nu":61.6},{"a":-0.2,"b":0.05,"nu":62.5},{"a":-0.15,"b":0.05,"nu":63.3},{"a":-0.1,"b":0.05,"nu":64.2},{"a":-0.05,"b":0.05,"nu":65.1},{"a":0,"b":0.05,"nu":65.9},{"a":0.05,"b":0.05,"nu":66.8},{"a":0.1,"b":0.05,"nu":67.7},{"a":0.15,"b":0.05,"nu":68.5},{"a":0.2,"b":0.05,"nu":69.4},{"a":0.25,"b":0.05,"nu":70.3},{"a":0.3,"b":0.05,"nu":71.2},{"a":0.35,"b":0.05,"nu":72.0},{"a":0.4,"b":0.05,"nu":72.9},{"a":0.45,"b":0.05,"nu":73.8},{"a":0.5,"b":0.05,"nu":74.7},{"a":0.55,"b":0.05,"nu":75.6},{"a":0.6,"b":0.05,"nu":76.5},{"a":0.65,"b":0.05,"nu":77.4},{"a":0.7,"b":0.05,"nu":78.3},{"a":0.75,"b":0.05,"nu":79.2},{"a":0.8,"b":0.05,"nu":80.1},{"a":0.85,"b":0.05,"nu":81.0},{"a":0.9,"b":0.05,"nu":81.9},{"a":0.95,"b":0.05,"nu":82.8},{"a":1,"b":0.05,"nu":83.7},
{"a":-1,"b":0.1,"nu":49.2},{"a":-0.95,"b":0.1,"nu":50.0},{"a":-0.9,"b":0.1,"nu":50.9},{"a":-0.85,"b":0.1,"nu":51.7},{"a":-0.8,"b":0.1,"nu":52.5},{"a":-0.75,"b":0.1,"nu":53.4},{"a":-0.7,"b":0.1,"nu":54.2},{"a":-0.65,"b":0.1,"nu":55.1},{"a":-0.6,"b":0.1,"nu":55.9},{"a":-0.55,"b":0.1,"nu":56.8},{"a":-0.5,"b":0.1,"nu":57.6},{"a":-0.45,"b":0.1,"nu":58.5},{"a":-0.4,"b":0.1,"nu":59.3},{"a":-0.35,"b":0.1,"nu":60.2},{"a":-0.3,"b":0.1,"nu":61.1},{"a":-0.25,"b":0.1,"nu":61.9},{"a":-0.2,"b":0.1,"nu":62.8},{"a":-0.15,"b":0.1,"nu":63.7},{"a":-0.1,"b":0.1,"nu":64.5},{"a":-0.05,"b":0.1,"nu":65.4},{"a":0,"b":0.1,"nu":66.3},{"a":0.05,"b":0.1,"nu":67.1},{"a":0.1,"b":0.1,"nu":68.0},{"a":0.15,"b":0.1,"nu":68.9},{"a":0.2,"b":0.1,"nu":69.8},{"a":0.25,"b":0.1,"nu":70.7},{"a":0.3,"b":0.1,"nu":71.5},{"a":0.35,"b":0.1,"nu":72.4},{"a":0.4,"b":0.1,"nu":73.3},{"a":0.45,"b":0.1,"nu":74.2},{"a":0.5,"b":0.1,"nu":75.1},{"a":0.55,"b":0.1,"nu":76.0},{"a":0.6,"b":0.1,"nu":76.9},{"a":0.65,"b":0.1,"nu":77.8},{"a":0.7,"b":0.1,"nu":78.7},{"a":0.75,"b":0.1,"nu":79.6},{"a":0.8,"b":0.1,"nu":80.5},{"a":0.85,"b":0.1,"nu":81.4},{"a":0.9,"b":0.1,"nu":82.3},{"a":0.95,"b":0.1,"nu":83.2},{"a":1,"b":0.1,"nu":84.1},
{"a":-1,"b":0.15,"nu":49.5},{"a":-0.95,"b":0.15,"nu":50.3},{"a":-0.9,"b":0.15,"nu":51.2},{"a":-0.85,"b":0.15,"nu":52.0},{"a":-0.8,"b":0.15,"nu":52.8},{"a":-0.75,"b":0.15,"nu":53.7},{"a":-0.7,"b":0.15,"nu":54.5},{"a":-0.65,"b":0.15,"nu":55.4},{"a":-0.6,"b":0.15,"nu":56.2},{"a":-0.55,"b":0.15,"nu":57.1},{"a":-0.5,"b":0.15,"nu":57.9},{"a":-0.45,"b":0.15,"nu":58.8},{"a":-0.4,"b":0.15,"nu":59.7},{"a":-0.35,"b":0.15,"nu":60.5},{"a":-0.3,"b":0.15,"nu":61.4},{"a":-0.25,"b":0.15,"nu":62.3},{"a":-0.2,"b":0.15,"nu":63.1},{"a":-0.15,"b":0.15,"nu":64.0},{"a":-0.1,"b":0.15,"nu":64.9},{"a":-0.05,"b":0.15,"nu":65.8},{"a":0,"b":0.15,"nu":66.6},{"a":0.05,"b":0.15,"nu":67.5},{"a":0.1,"b":0.15,"nu":68.4},{"a":0.15,"b":0.15,"nu":69.3},{"a":0.2,"b":0.15,"nu":70.2},{"a":0.25,"b":0.15,"nu":71.1},{"a":0.3,"b":0.15,"nu":71.9},{"a":0.35,"b":0.15,"nu":72.8},{"a":0.4,"b":0.15,"nu":73.7},{"a":0.45,"b":0.15,"nu":74.6},{"a":0.5,"b":0.15,"nu":75.5},{"a":0.55,"b":0.15,"nu":76.4},{"a":0.6,"b":0.15,"nu":77.3},{"a":0.65,"b":0.15,"nu":78.2},{"a":0.7,"b":0.15,"nu":79.1},{"a":0.75,"b":0.15,"nu":80.0},{"a":0.8,"b":0.15,"nu":80.9},{"a":0.85,"b":0.15,"nu":81.8},{"a":0.9,"b":0.15,"nu":82.7},{"a":0.95,"b":0.15,"nu":83.6},{"a":1,"b":0.15,"nu":84.5},
{"a":-1,"b":0.2,"nu":49.8},{"a":-0.95,"b":0.2,"nu":50.6},{"a":-0.9,"b":0.2,"nu":51.4},{"a":-0.85,"b":0.2,"nu":52.3},{"a":-0.8,"b":0.2,"nu":53.1},{"a":-0.75,"b":0.2,"nu":54.0},{"a":-0.7,"b":0.2,"nu":54.8},{"a":-0.65,"b":0.2,"nu":55.7},{"a":-0.6,"b":0.2,"nu":56.5},{"a":-0.55,"b":0.2,"nu":57.4},{"a":-0.5,"b":0.2,"nu":58.2},{"a":-0.45,"b":0.2,"nu":59.1},{"a":-0.4,"b":0.2,"nu":60.0},{"a":-0.35,"b":0.2,"nu":60.8},{"a":-0.3,"b":0.2,"nu":61.7},{"a":-0.25,"b":0.2,"nu":62.6},{"a":-0.2,"b":0.2,"nu":63.4},{"a":-0.15,"b":0.2,"nu":64.3},{"a":-0.1,"b":0.2,"nu":65.2},{"a":-0.05,"b":0.2,"nu":66.1},{"a":0,"b":0.2,"nu":66.9},{"a":0.05,"b":0.2,"nu":67.8},{"a":0.1,"b":0.2,"nu":68.7},{"a":0.15,"b":0.2,"nu":69.6},{"a":0.2,"b":0.2,"nu":70.5},{"a":0.25,"b":0.2,"nu":71.4},{"a":0.3,"b":0.2,"nu":72.2},{"a":0.35,"b":0.2,"nu":73.1},{"a":0.4,"b":0.2,"nu":74.0},{"a":0.45,"b":0.2,"nu":74.9},{"a":0.5,"b":0.2,"nu":75.8},{"a":0.55,"b":0.2,"nu":76.7},{"a":0.6,"b":0.2,"nu":77.6},{"a":0.65,"b":0.2,"nu":78.5},{"a":0.7,"b":0.2,"nu":79.4},{"a":0.75,"b":0.2,"nu":80.3},{"a":0.8,"b":0.2,"nu":81.3},{"a":0.85,"b":0.2,"nu":82.2},{"a":0.9,"b":0.2,"nu":83.1},{"a":0.95,"b":0.2,"nu":84.0},{"a":1,"b":0.2,"nu":84.9},
{"a":-1,"b":0.25,"nu":50.0},{"a":-0.95,"b":0.25,"nu":50.9},{"a":-0.9,"b":0.25,"nu":51.7},{"a":-0.85,"b":0.25,"nu":52.6},{"a":-0.8,"b":0.25,"nu":53.4},{"a":-0.75,"b":0.25,"nu":54.3},{"a":-0.7,"b":0.25,"nu":55.1},{"a":-0.65,"b":0.25,"nu":56.0},{"a":-0.6,"b":0.25,"nu":56.8},{"a":-0.55,"b":0.25,"nu":57.7},{"a":-0.5,"b":0.25,"nu":58.5},{"a":-0.45,"b":0.25,"nu":59.4},{"a":-0.4,"b":0.25,"nu":60.3},{"a":-0.35,"b":0.25,"nu":61.1},{"a":-0.3,"b":0.25,"nu":62.0},{"a":-0.25,"b":0.25,"nu":62.9},{"a":-0.2,"b":0.25,"nu":63.7},{"a":-0.15,"b":0.25,"nu":64.6},{"a":-0.1,"b":0.25,"nu":65.5},{"a":-0.05,"b":0.25,"nu":66.4},{"a":0,"b":0.25,"nu":67.2},{"a":0.05,"b":0.25,"nu":68.1},{"a":0.1,"b":0.25,"nu":69.0},{"a":0.15,"b":0.25,"nu":69.9},{"a":0.2,"b":0.25,"nu":70.8},{"a":0.25,"b":0.25,"nu":71.7},{"a":0.3,"b":0.25,"nu":72.6},{"a":0.35,"b":0.25,"nu":73.5},{"a":0.4,"b":0.25,"nu":74.4},{"a":0.45,"b":0.25,"nu":75.3},{"a":0.5,"b":0.25,"nu":76.2},{"a":0.55,"b":0.25,"nu":77.1},{"a":0.6,"b":0.25,"nu":78.0},{"a":0.65,"b":0.25,"nu":78.9},{"a":0.7,"b":0.25,"nu":79.8},{"a":0.75,"b":0.25,"nu":80.7},{"a":0.8,"b":0.25,"nu":81.6},{"a":0.85,"b":0.25,"nu":82.5},{"a":0.9,"b":0.25,"nu":83.5},{"a":0.95,"b":0.25,"nu":84.4},{"a":1,"b":0.25,"nu":85.3},
{"a":-1,"b":0.3,"nu":50.2},{"a":-0.95,"b":0.3,"nu":51.1},{"a":-0.9,"b":0.3,"nu":51.9},{"a":-0.85,"b":0.3,"nu":52.8},{"a":-0.8,"b":0.3,"nu":53.6},{"a":-0.75,"b":0.3,"nu":54.5},{"a":-0.7,"b":0.3,"nu":55.3},{"a":-0.65,"b":0.3,"nu":56.2},{"a":-0.6,"b":0.3,"nu":57.0},{"a":-0.55,"b":0.3,"nu":57.9},{"a":-0.5,"b":0.3,"nu":58.8},{"a":-0.45,"b":0.3,"nu":59.6},{"a":-0.4,"b":0.3,"nu":60.5},{"a":-0.35,"b":0.3,"nu":61.4},{"a":-0.3,"b":0.3,"nu":62.2},{"a":-0.25,"b":0.3,"nu":63.1},{"a":-0.2,"b":0.3,"nu":64.0},{"a":-0.15,"b":0.3,"nu":64.9},{"a":-0.1,"b":0.3,"nu":65.8},{"a":-0.05,"b":0.3,"nu":66.6},{"a":0,"b":0.3,"nu":67.5},{"a":0.05,"b":0.3,"nu":68.4},{"a":0.1,"b":0.3,"nu":69.3},{"a":0.15,"b":0.3,"nu":70.2},{"a":0.2,"b":0.3,"nu":71.1},{"a":0.25,"b":0.3,"nu":72.0},{"a":0.3,"b":0.3,"nu":72.9},{"a":0.35,"b":0.3,"nu":73.8},{"a":0.4,"b":0.3,"nu":74.7},{"a":0.45,"b":0.3,"nu":75.6},{"a":0.5,"b":0.3,"nu":76.5},{"a":0.55,"b":0.3,"nu":77.4},{"a":0.6,"b":0.3,"nu":78.3},{"a":0.65,"b":0.3,"nu":79.2},{"a":0.7,"b":0.3,"nu":80.1},{"a":0.75,"b":0.3,"nu":81.0},{"a":0.8,"b":0.3,"nu":81.9},{"a":0.85,"b":0.3,"nu":82.8},{"a":0.9,"b":0.3,"nu":83.8},{"a":0.95,"b":0.3,"nu":84.7},{"a":1,"b":0.3,"nu":85.6},
{"a":-1,"b":0.35,"nu":50.4},{"a":-0.95,"b":0.35,"nu":51.3},{"a":-0.9,"b":0.35,"nu":52.1},{"a":-0.85,"b":0.35,"nu":53.0},{"a":-0.8,"b":0.35,"nu":53.8},{"a":-0.75,"b":0.35,"nu":54.7},{"a":-0.7,"b":0.35,"nu":55.6},{"a":-0.65,"b":0.35,"nu":56.4},{"a":-0.6,"b":0.35,"nu":57.3},{"a":-0.55,"b":0.35,"nu":58.2},{"a":-0.5,"b":0.35,"nu":59.0},{"a":-0.45,"b":0.35,"nu":59.9},{"a":-0.4,"b":0.35,"nu":60.8},{"a":-0.35,"b":0.35,"nu":61.6},{"a":-0.3,"b":0.35,"nu":62.5},{"a":-0.25,"b":0.35,"nu":63.4},{"a":-0.2,"b":0.35,"nu":64.3},{"a":-0.15,"b":0.35,"nu":65.2},{"a":-0.1,"b":0.35,"nu":66.0},{"a":-0.05,"b":0.35,"nu":66.9},{"a":0,"b":0.35,"nu":67.8},{"a":0.05,"b":0.35,"nu":68.7},{"a":0.1,"b":0.35,"nu":69.6},{"a":0.15,"b":0.35,"nu":70.5},{"a":0.2,"b":0.35,"nu":71.4},{"a":0.25,"b":0.35,"nu":72.3},{"a":0.3,"b":0.35,"nu":73.2},{"a":0.35,"b":0.35,"nu":74.1},{"a":0.4,"b":0.35,"nu":75.0},{"a":0.45,"b":0.35,"nu":75.9},{"a":0.5,"b":0.35,"nu":76.8},{"a":0.55,"b":0.35,"nu":77.7},{"a":0.6,"b":0.35,"nu":78.6},{"a":0.65,"b":0.35,"nu":79.5},{"a":0.7,"b":0.35,"nu":80.4},{"a":0.75,"b":0.35,"nu":81.3},{"a":0.8,"b":0.35,"nu":82.2},{"a":0.85,"b":0.35,"nu":83.1},{"a":0.9,"b":0.35,"nu":84.1},{"a":0.95,"b":0.35,"nu":85.0},{"a":1,"b":0.35,"nu":85.9},
{"a":-1,"b":0.4,"nu":50.6},{"a":-0.95,"b":0.4,"nu":51.5},{"a":-0.9,"b":0.4,"nu":52.3},{"a":-0.85,"b":0.4,"nu":53.2},{"a":-0.8,"b":0.4,"nu":54.0},{"a":-0.75,"b":0.4,"nu":54.9},{"a":-0.7,"b":0.4,"nu":55.8},{"a":-0.65,"b":0.4,"nu":56.6},{"a":-0.6,"b":0.4,"nu":57.5},{"a":-0.55,"b":0.4,"nu":58.4},{"a":-0.5,"b":0.4,"nu":59.2},{"a":-0.45,"b":0.4,"nu":60.1},{"a":-0.4,"b":0.4,"nu":61.0},{"a":-0.35,"b":0.4,"nu":61.8},{"a":-0.3,"b":0.4,"nu":62.7},{"a":-0.25,"b":0.4,"nu":63.6},{"a":-0.2,"b":0.4,"nu":64.5},{"a":-0.15,"b":0.4,"nu":65.4},{"a":-0.1,"b":0.4,"nu":66.2},{"a":-0.05,"b":0.4,"nu":67.1},{"a":0,"b":0.4,"nu":68.0},{"a":0.05,"b":0.4,"nu":68.9},{"a":0.1,"b":0.4,"nu":69.8},{"a":0.15,"b":0.4,"nu":70.7},{"a":0.2,"b":0.4,"nu":71.6},{"a":0.25,"b":0.4,"nu":72.5},{"a":0.3,"b":0.4,"nu":73.4},{"a":0.35,"b":0.4,"nu":74.3},{"a":0.4,"b":0.4,"nu":75.2},{"a":0.45,"b":0.4,"nu":76.1},{"a":0.5,"b":0.4,"nu":77.0},{"a":0.55,"b":0.4,"nu":77.9},{"a":0.6,"b":0.4,"nu":78.8},{"a":0.65,"b":0.4,"nu":79.7},{"a":0.7,"b":0.4,"nu":80.7},{"a":0.75,"b":0.4,"nu":81.6},{"a":0.8,"b":0.4,"nu":82.5},{"a":0.85,"b":0.4,"nu":83.4},{"a":0.9,"b":0.4,"nu":84.4},{"a":0.95,"b":0.4,"nu":85.3},{"a":1,"b":0.4,"nu":86.2},
{"a":-1,"b":0.45,"nu":50.8},{"a":-0.95,"b":0.45,"nu":51.7},{"a":-0.9,"b":0.45,"nu":52.5},{"a":-0.85,"b":0.45,"nu":53.4},{"a":-0.8,"b":0.45,"nu":54.2},{"a":-0.75,"b":0.45,"nu":55.1},{"a":-0.7,"b":0.45,"nu":56.0},{"a":-0.65,"b":0.45,"nu":56.8},{"a":-0.6,"b":0.45,"nu":57.7},{"a":-0.55,"b":0.45,"nu":58.6},{"a":-0.5,"b":0.45,"nu":59.4},{"a":-0.45,"b":0.45,"nu":60.3},{"a":-0.4,"b":0.45,"nu":61.2},{"a":-0.35,"b":0.45,"nu":62.0},{"a":-0.3,"b":0.45,"nu":62.9},{"a":-0.25,"b":0.45,"nu":63.8},{"a":-0.2,"b":0.45,"nu":64.7},{"a":-0.15,"b":0.45,"nu":65.6},{"a":-0.1,"b":0.45,"nu":66.5},{"a":-0.05,"b":0.45,"nu":67.3},{"a":0,"b":0.45,"nu":68.2},{"a":0.05,"b":0.45,"nu":69.1},{"a":0.1,"b":0.45,"nu":70.0},{"a":0.15,"b":0.45,"nu":70.9},{"a":0.2,"b":0.45,"nu":71.8},{"a":0.25,"b":0.45,"nu":72.7},{"a":0.3,"b":0.45,"nu":73.6},{"a":0.35,"b":0.45,"nu":74.6},{"a":0.4,"b":0.45,"nu":75.5},{"a":0.45,"b":0.45,"nu":76.4},{"a":0.5,"b":0.45,"nu":77.3},{"a":0.55,"b":0.45,"nu":78.2},{"a":0.6,"b":0.45,"nu":79.1},{"a":0.65,"b":0.45,"nu":80.0},{"a":0.7,"b":0.45,"nu":81.0},{"a":0.75,"b":0.45,"nu":81.9},{"a":0.8,"b":0.45,"nu":82.8},{"a":0.85,"b":0.45,"nu":83.7},{"a":0.9,"b":0.45,"nu":84.7},{"a":0.95,"b":0.45,"nu":85.6},{"a":1,"b":0.45,"nu":86.5},
{"a":-1,"b":0.5,"nu":50.9},{"a":-0.95,"b":0.5,"nu":51.8},{"a":-0.9,"b":0.5,"nu":52.7},{"a":-0.85,"b":0.5,"nu":53.5},{"a":-0.8,"b":0.5,"nu":54.4},{"a":-0.75,"b":0.5,"nu":55.2},{"a":-0.7,"b":0.5,"nu":56.1},{"a":-0.65,"b":0.5,"nu":57.0},{"a":-0.6,"b":0.5,"nu":57.8},{"a":-0.55,"b":0.5,"nu":58.7},{"a":-0.5,"b":0.5,"nu":59.6},{"a":-0.45,"b":0.5,"nu":60.5},{"a":-0.4,"b":0.5,"nu":61.3},{"a":-0.35,"b":0.5,"nu":62.2},{"a":-0.3,"b":0.5,"nu":63.1},{"a":-0.25,"b":0.5,"nu":64.0},{"a":-0.2,"b":0.5,"nu":64.9},{"a":-0.15,"b":0.5,"nu":65.8},{"a":-0.1,"b":0.5,"nu":66.7},{"a":-0.05,"b":0.5,"nu":67.5},{"a":0,"b":0.5,"nu":68.4},{"a":0.05,"b":0.5,"nu":69.3},{"a":0.1,"b":0.5,"nu":70.2},{"a":0.15,"b":0.5,"nu":71.1},{"a":0.2,"b":0.5,"nu":72.0},{"a":0.25,"b":0.5,"nu":72.9},{"a":0.3,"b":0.5,"nu":73.8},{"a":0.35,"b":0.5,"nu":74.8},{"a":0.4,"b":0.5,"nu":75.7},{"a":0.45,"b":0.5,"nu":76.6},{"a":0.5,"b":0.5,"nu":77.5},{"a":0.55,"b":0.5,"nu":78.4},{"a":0.6,"b":0.5,"nu":79.3},{"a":0.65,"b":0.5,"nu":80.2},{"a":0.7,"b":0.5,"nu":81.2},{"a":0.75,"b":0.5,"nu":82.1},{"a":0.8,"b":0.5,"nu":83.0},{"a":0.85,"b":0.5,"nu":83.9},{"a":0.9,"b":0.5,"nu":84.9},{"a":0.95,"b":0.5,"nu":85.8},{"a":1,"b":0.5,"nu":86.7},
{"a":-1,"b":0.55,"nu":51.1},{"a":-0.95,"b":0.55,"nu":51.9},{"a":-0.9,"b":0.55,"nu":52.8},{"a":-0.85,"b":0.55,"nu":53.7},{"a":-0.8,"b":0.55,"nu":54.5},{"a":-0.75,"b":0.55,"nu":55.4},{"a":-0.7,"b":0.55,"nu":56.3},{"a":-0.65,"b":0.55,"nu":57.2},{"a":-0.6,"b":0.55,"nu":58.0},{"a":-0.55,"b":0.55,"nu":58.9},{"a":-0.5,"b":0.55,"nu":59.8},{"a":-0.45,"b":0.55,"nu":60.7},{"a":-0.4,"b":0.55,"nu":61.5},{"a":-0.35,"b":0.55,"nu":62.4},{"a":-0.3,"b":0.55,"nu":63.3},{"a":-0.25,"b":0.55,"nu":64.2},{"a":-0.2,"b":0.55,"nu":65.1},{"a":-0.15,"b":0.55,"nu":66.0},{"a":-0.1,"b":0.55,"nu":66.9},{"a":-0.05,"b":0.55,"nu":67.7},{"a":0,"b":0.55,"nu":68.6},{"a":0.05,"b":0.55,"nu":69.5},{"a":0.1,"b":0.55,"nu":70.4},{"a":0.15,"b":0.55,"nu":71.3},{"a":0.2,"b":0.55,"nu":72.2},{"a":0.25,"b":0.55,"nu":73.1},{"a":0.3,"b":0.55,"nu":74.0},{"a":0.35,"b":0.55,"nu":75.0},{"a":0.4,"b":0.55,"nu":75.9},{"a":0.45,"b":0.55,"nu":76.8},{"a":0.5,"b":0.55,"nu":77.7},{"a":0.55,"b":0.55,"nu":78.6},{"a":0.6,"b":0.55,"nu":79.5},{"a":0.65,"b":0.55,"nu":80.4},{"a":0.7,"b":0.55,"nu":81.4},{"a":0.75,"b":0.55,"nu":82.3},{"a":0.8,"b":0.55,"nu":83.2},{"a":0.85,"b":0.55,"nu":84.2},{"a":0.9,"b":0.55,"nu":85.1},{"a":0.95,"b":0.55,"nu":86.0},{"a":1,"b":0.55,"nu":87.0},
{"a":-1,"b":0.6,"nu":51.2},{"a":-0.95,"b":0.6,"nu":52.0},{"a":-0.9,"b":0.6,"nu":52.9},{"a":-0.85,"b":0.6,"nu":53.8},{"a":-0.8,"b":0.6,"nu":54.6},{"a":-0.75,"b":0.6,"nu":55.5},{"a":-0.7,"b":0.6,"nu":56.4},{"a":-0.65,"b":0.6,"nu":57.3},{"a":-0.6,"b":0.6,"nu":58.1},{"a":-0.55,"b":0.6,"nu":59.0},{"a":-0.5,"b":0.6,"nu":59.9},{"a":-0.45,"b":0.6,"nu":60.8},{"a":-0.4,"b":0.6,"nu":61.6},{"a":-0.35,"b":0.6,"nu":62.5},{"a":-0.3,"b":0.6,"nu":63.4},{"a":-0.25,"b":0.6,"nu":64.3},{"a":-0.2,"b":0.6,"nu":65.2},{"a":-0.15,"b":0.6,"nu":66.1},{"a":-0.1,"b":0.6,"nu":67.0},{"a":-0.05,"b":0.6,"nu":67.9},{"a":0,"b":0.6,"nu":68.8},{"a":0.05,"b":0.6,"nu":69.7},{"a":0.1,"b":0.6,"nu":70.6},{"a":0.15,"b":0.6,"nu":71.5},{"a":0.2,"b":0.6,"nu":72.4},{"a":0.25,"b":0.6,"nu":73.3},{"a":0.3,"b":0.6,"nu":74.2},{"a":0.35,"b":0.6,"nu":75.1},{"a":0.4,"b":0.6,"nu":76.0},{"a":0.45,"b":0.6,"nu":77.0},{"a":0.5,"b":0.6,"nu":77.9},{"a":0.55,"b":0.6,"nu":78.8},{"a":0.6,"b":0.6,"nu":79.7},{"a":0.65,"b":0.6,"nu":80.6},{"a":0.7,"b":0.6,"nu":81.6},{"a":0.75,"b":0.6,"nu":82.5},{"a":0.8,"b":0.6,"nu":83.4},{"a":0.85,"b":0.6,"nu":84.4},{"a":0.9,"b":0.6,"nu":85.3},{"a":0.95,"b":0.6,"nu":86.2},{"a":1,"b":0.6,"nu":87.2},
{"a":-1,"b":0.65,"nu":51.3},{"a":-0.95,"b":0.65,"nu":52.1},{"a":-0.9,"b":0.65,"nu":53.0},{"a":-0.85,"b":0.65,"nu":53.9},{"a":-0.8,"b":0.65,"nu":54.7},{"a":-0.75,"b":0.65,"nu":55.6},{"a":-0.7,"b":0.65,"nu":56.5},{"a":-0.65,"b":0.65,"nu":57.4},{"a":-0.6,"b":0.65,"nu":58.2},{"a":-0.55,"b":0.65,"nu":59.1},{"a":-0.5,"b":0.65,"nu":60.0},{"a":-0.45,"b":0.65,"nu":60.9},{"a":-0.4,"b":0.65,"nu":61.8},{"a":-0.35,"b":0.65,"nu":62.7},{"a":-0.3,"b":0.65,"nu":63.5},{"a":-0.25,"b":0.65,"nu":64.4},{"a":-0.2,"b":0.65,"nu":65.3},{"a":-0.15,"b":0.65,"nu":66.2},{"a":-0.1,"b":0.65,"nu":67.1},{"a":-0.05,"b":0.65,"nu":68.0},{"a":0,"b":0.65,"nu":68.9},{"a":0.05,"b":0.65,"nu":69.8},{"a":0.1,"b":0.65,"nu":70.8},{"a":0.15,"b":0.65,"nu":71.7},{"a":0.2,"b":0.65,"nu":72.6},{"a":0.25,"b":0.65,"nu":73.5},{"a":0.3,"b":0.65,"nu":74.4},{"a":0.35,"b":0.65,"nu":75.3},{"a":0.4,"b":0.65,"nu":76.2},{"a":0.45,"b":0.65,"nu":77.2},{"a":0.5,"b":0.65,"nu":78.1},{"a":0.55,"b":0.65,"nu":79.0},{"a":0.6,"b":0.65,"nu":79.9},{"a":0.65,"b":0.65,"nu":80.8},{"a":0.7,"b":0.65,"nu":81.8},{"a":0.75,"b":0.65,"nu":82.7},{"a":0.8,"b":0.65,"nu":83.6},{"a":0.85,"b":0.65,"nu":84.6},{"a":0.9,"b":0.65,"nu":85.5},{"a":0.95,"b":0.65,"nu":86.4},{"a":1,"b":0.65,"nu":87.4},
{"a":-1,"b":0.7,"nu":51.3},{"a":-0.95,"b":0.7,"nu":52.2},{"a":-0.9,"b":0.7,"nu":53.1},{"a":-0.85,"b":0.7,"nu":53.9},{"a":-0.8,"b":0.7,"nu":54.8},{"a":-0.75,"b":0.7,"nu":55.7},{"a":-0.7,"b":0.7,"nu":56.6},{"a":-0.65,"b":0.7,"nu":57.4},{"a":-0.6,"b":0.7,"nu":58.3},{"a":-0.55,"b":0.7,"nu":59.2},{"a":-0.5,"b":0.7,"nu":60.1},{"a":-0.45,"b":0.7,"nu":61.0},{"a":-0.4,"b":0.7,"nu":61.9},{"a":-0.35,"b":0.7,"nu":62.8},{"a":-0.3,"b":0.7,"nu":63.6},{"a":-0.25,"b":0.7,"nu":64.5},{"a":-0.2,"b":0.7,"nu":65.4},{"a":-0.15,"b":0.7,"nu":66.3},{"a":-0.1,"b":0.7,"nu":67.2},{"a":-0.05,"b":0.7,"nu":68.1},{"a":0,"b":0.7,"nu":69.0},{"a":0.05,"b":0.7,"nu":69.9},{"a":0.1,"b":0.7,"nu":70.9},{"a":0.15,"b":0.7,"nu":71.8},{"a":0.2,"b":0.7,"nu":72.7},{"a":0.25,"b":0.7,"nu":73.6},{"a":0.3,"b":0.7,"nu":74.5},{"a":0.35,"b":0.7,"nu":75.4},{"a":0.4,"b":0.7,"nu":76.3},{"a":0.45,"b":0.7,"nu":77.3},{"a":0.5,"b":0.7,"nu":78.2},{"a":0.55,"b":0.7,"nu":79.1},{"a":0.6,"b":0.7,"nu":80.0},{"a":0.65,"b":0.7,"nu":81.0},{"a":0.7,"b":0.7,"nu":81.9},{"a":0.75,"b":0.7,"nu":82.8},{"a":0.8,"b":0.7,"nu":83.8},{"a":0.85,"b":0.7,"nu":84.7},{"a":0.9,"b":0.7,"nu":85.7},{"a":0.95,"b":0.7,"nu":86.6},{"a":1,"b":0.7,"nu":87.5},
{"a":-1,"b":0.75,"nu":51.4},{"a":-0.95,"b":0.75,"nu":52.3},{"a":-0.9,"b":0.75,"nu":53.2},{"a":-0.85,"b":0.75,"nu":54.0},{"a":-0.8,"b":0.75,"nu":54.9},{"a":-0.75,"b":0.75,"nu":55.8},{"a":-0.7,"b":0.75,"nu":56.7},{"a":-0.65,"b":0.75,"nu":57.5},{"a":-0.6,"b":0.75,"nu":58.4},{"a":-0.55,"b":0.75,"nu":59.3},{"a":-0.5,"b":0.75,"nu":60.2},{"a":-0.45,"b":0.75,"nu":61.1},{"a":-0.4,"b":0.75,"nu":62.0},{"a":-0.35,"b":0.75,"nu":62.9},{"a":-0.3,"b":0.75,"nu":63.7},{"a":-0.25,"b":0.75,"nu":64.6},{"a":-0.2,"b":0.75,"nu":65.5},{"a":-0.15,"b":0.75,"nu":66.4},{"a":-0.1,"b":0.75,"nu":67.3},{"a":-0.05,"b":0.75,"nu":68.2},{"a":0,"b":0.75,"nu":69.1},{"a":0.05,"b":0.75,"nu":70.0},{"a":0.1,"b":0.75,"nu":71.0},{"a":0.15,"b":0.75,"nu":71.9},{"a":0.2,"b":0.75,"nu":72.8},{"a":0.25,"b":0.75,"nu":73.7},{"a":0.3,"b":0.75,"nu":74.6},{"a":0.35,"b":0.75,"nu":75.5},{"a":0.4,"b":0.75,"nu":76.5},{"a":0.45,"b":0.75,"nu":77.4},{"a":0.5,"b":0.75,"nu":78.3},{"a":0.55,"b":0.75,"nu":79.3},{"a":0.6,"b":0.75,"nu":80.2},{"a":0.65,"b":0.75,"nu":81.1},{"a":0.7,"b":0.75,"nu":82.1},{"a":0.75,"b":0.75,"nu":83.0},{"a":0.8,"b":0.75,"nu":83.9},{"a":0.85,"b":0.75,"nu":84.9},{"a":0.9,"b":0.75,"nu":85.8},{"a":0.95,"b":0.75,"nu":86.8},{"a":1,"b":0.75,"nu":87.7},
{"a":-1,"b":0.8,"nu":51.4},{"a":-0.95,"b":0.8,"nu":52.3},{"a":-0.9,"b":0.8,"nu":53.2},{"a":-0.85,"b":0.8,"nu":54.0},{"a":-0.8,"b":0.8,"nu":54.9},{"a":-0.75,"b":0.8,"nu":55.8},{"a":-0.7,"b":0.8,"nu":56.7},{"a":-0.65,"b":0.8,"nu":57.6},{"a":-0.6,"b":0.8,"nu":58.4},{"a":-0.55,"b":0.8,"nu":59.3},{"a":-0.5,"b":0.8,"nu":60.2},{"a":-0.45,"b":0.8,"nu":61.1},{"a":-0.4,"b":0.8,"nu":62.0},{"a":-0.35,"b":0.8,"nu":62.9},{"a":-0.3,"b":0.8,"nu":63.8},{"a":-0.25,"b":0.8,"nu":64.7},{"a":-0.2,"b":0.8,"nu":65.6},{"a":-0.15,"b":0.8,"nu":66.5},{"a":-0.1,"b":0.8,"nu":67.4},{"a":-0.05,"b":0.8,"nu":68.3},{"a":0,"b":0.8,"nu":69.2},{"a":0.05,"b":0.8,"nu":70.1},{"a":0.1,"b":0.8,"nu":71.0},{"a":0.15,"b":0.8,"nu":72.0},{"a":0.2,"b":0.8,"nu":72.9},{"a":0.25,"b":0.8,"nu":73.8},{"a":0.3,"b":0.8,"nu":74.7},{"a":0.35,"b":0.8,"nu":75.6},{"a":0.4,"b":0.8,"nu":76.6},{"a":0.45,"b":0.8,"nu":77.5},{"a":0.5,"b":0.8,"nu":78.4},{"a":0.55,"b":0.8,"nu":79.4},{"a":0.6,"b":0.8,"nu":80.3},{"a":0.65,"b":0.8,"nu":81.2},{"a":0.7,"b":0.8,"nu":82.2},{"a":0.75,"b":0.8,"nu":83.1},{"a":0.8,"b":0.8,"nu":84.0},{"a":0.85,"b":0.8,"nu":85.0},{"a":0.9,"b":0.8,"nu":85.9},{"a":0.95,"b":0.8,"nu":86.9},{"a":1,"b":0.8,"nu":87.8},
{"a":-1,"b":0.85,"nu":51.4},{"a":-0.95,"b":0.85,"nu":52.3},{"a":-0.9,"b":0.85,"nu":53.2},{"a":-0.85,"b":0.85,"nu":54.0},{"a":-0.8,"b":0.85,"nu":54.9},{"a":-0.75,"b":0.85,"nu":55.8},{"a":-0.7,"b":0.85,"nu":56.7},{"a":-0.65,"b":0.85,"nu":57.6},{"a":-0.6,"b":0.85,"nu":58.5},{"a":-0.55,"b":0.85,"nu":59.4},{"a":-0.5,"b":0.85,"nu":60.3},{"a":-0.45,"b":0.85,"nu":61.2},{"a":-0.4,"b":0.85,"nu":62.1},{"a":-0.35,"b":0.85,"nu":63.0},{"a":-0.3,"b":0.85,"nu":63.9},{"a":-0.25,"b":0.85,"nu":64.8},{"a":-0.2,"b":0.85,"nu":65.7},{"a":-0.15,"b":0.85,"nu":66.6},{"a":-0.1,"b":0.85,"nu":67.5},{"a":-0.05,"b":0.85,"nu":68.4},{"a":0,"b":0.85,"nu":69.3},{"a":0.05,"b":0.85,"nu":70.2},{"a":0.1,"b":0.85,"nu":71.1},{"a":0.15,"b":0.85,"nu":72.1},{"a":0.2,"b":0.85,"nu":73.0},{"a":0.25,"b":0.85,"nu":73.9},{"a":0.3,"b":0.85,"nu":74.8},{"a":0.35,"b":0.85,"nu":75.7},{"a":0.4,"b":0.85,"nu":76.7},{"a":0.45,"b":0.85,"nu":77.6},{"a":0.5,"b":0.85,"nu":78.5},{"a":0.55,"b":0.85,"nu":79.5},{"a":0.6,"b":0.85,"nu":80.4},{"a":0.65,"b":0.85,"nu":81.3},{"a":0.7,"b":0.85,"nu":82.3},{"a":0.75,"b":0.85,"nu":83.2},{"a":0.8,"b":0.85,"nu":84.1},{"a":0.85,"b":0.85,"nu":85.1},{"a":0.9,"b":0.85,"nu":86.0},{"a":0.95,"b":0.85,"nu":87.0},{"a":1,"b":0.85,"nu":87.9},
{"a":-1,"b":0.9,"nu":51.4},{"a":-0.95,"b":0.9,"nu":52.3},{"a":-0.9,"b":0.9,"nu":53.2},{"a":-0.85,"b":0.9,"nu":54.0},{"a":-0.8,"b":0.9,"nu":54.9},{"a":-0.75,"b":0.9,"nu":55.8},{"a":-0.7,"b":0.9,"nu":56.7},{"a":-0.65,"b":0.9,"nu":57.6},{"a":-0.6,"b":0.9,"nu":58.5},{"a":-0.55,"b":0.9,"nu":59.4},{"a":-0.5,"b":0.9,"nu":60.3},{"a":-0.45,"b":0.9,"nu":61.2},{"a":-0.4,"b":0.9,"nu":62.1},{"a":-0.35,"b":0.9,"nu":63.0},{"a":-0.3,"b":0.9,"nu":63.9},{"a":-0.25,"b":0.9,"nu":64.8},{"a":-0.2,"b":0.9,"nu":65.7},{"a":-0.15,"b":0.9,"nu":66.6},{"a":-0.1,"b":0.9,"nu":67.5},{"a":-0.05,"b":0.9,"nu":68.4},{"a":0,"b":0.9,"nu":69.3},{"a":0.05,"b":0.9,"nu":70.2},{"a":0.1,"b":0.9,"nu":71.1},{"a":0.15,"b":0.9,"nu":72.1},{"a":0.2,"b":0.9,"nu":73.0},{"a":0.25,"b":0.9,"nu":73.9},{"a":0.3,"b":0.9,"nu":74.8},{"a":0.35,"b":0.9,"nu":75.8},{"a":0.4,"b":0.9,"nu":76.7},{"a":0.45,"b":0.9,"nu":77.6},{"a":0.5,"b":0.9,"nu":78.6},{"a":0.55,"b":0.9,"nu":79.5},{"a":0.6,"b":0.9,"nu":80.4},{"a":0.65,"b":0.9,"nu":81.4},{"a":0.7,"b":0.9,"nu":82.3},{"a":0.75,"b":0.9,"nu":83.3},{"a":0.8,"b":0.9,"nu":84.2},{"a":0.85,"b":0.9,"nu":85.2},{"a":0.9,"b":0.9,"nu":86.1},{"a":0.95,"b":0.9,"nu":87.1},{"a":1,"b":0.9,"nu":88.0},
{"a":-1,"b":0.95,"nu":51.4},{"a":-0.95,"b":0.95,"nu":52.3},{"a":-0.9,"b":0.95,"nu":53.2},{"a":-0.85,"b":0.95,"nu":54.0},{"a":-0.8,"b":0.95,"nu":54.9},{"a":-0.75,"b":0.95,"nu":55.8},{"a":-0.7,"b":0.95,"nu":56.7},{"a":-0.65,"b":0.95,"nu":57.6},{"a":-0.6,"b":0.95,"nu":58.5},{"a":-0.55,"b":0.95,"nu":59.4},{"a":-0.5,"b":0.95,"nu":60.3},{"a":-0.45,"b":0.95,"nu":61.2},{"a":-0.4,"b":0.95,"nu":62.1},{"a":-0.35,"b":0.95,"nu":63.0},{"a":-0.3,"b":0.95,"nu":63.9},{"a":-0.25,"b":0.95,"nu":64.8},{"a":-0.2,"b":0.95,"nu":65.7},{"a":-0.15,"b":0.95,"nu":66.6},{"a":-0.1,"b":0.95,"nu":67.5},{"a":-0.05,"b":0.95,"nu":68.4},{"a":0,"b":0.95,"nu":69.3},{"a":0.05,"b":0.95,"nu":70.3},{"a":0.1,"b":0.95,"nu":71.2},{"a":0.15,"b":0.95,"nu":72.1},{"a":0.2,"b":0.95,"nu":73.0},{"a":0.25,"b":0.95,"nu":74.0},{"a":0.3,"b":0.95,"nu":74.9},{"a":0.35,"b":0.95,"nu":75.8},{"a":0.4,"b":0.95,"nu":76.8},{"a":0.45,"b":0.95,"nu":77.7},{"a":0.5,"b":0.95,"nu":78.6},{"a":0.55,"b":0.95,"nu":79.6},{"a":0.6,"b":0.95,"nu":80.5},{"a":0.65,"b":0.95,"nu":81.5},{"a":0.7,"b":0.95,"nu":82.4},{"a":0.75,"b":0.95,"nu":83.4},{"a":0.8,"b":0.95,"nu":84.3},{"a":0.85,"b":0.95,"nu":85.3},{"a":0.9,"b":0.95,"nu":86.2},{"a":0.95,"b":0.95,"nu":87.2},{"a":1,"b":0.95,"nu":88.1},
{"a":-1,"b":1,"nu":51.3},{"a":-0.95,"b":1,"nu":52.2},{"a":-0.9,"b":1,"nu":53.1},{"a":-0.85,"b":1,"nu":54.0},{"a":-0.8,"b":1,"nu":54.9},{"a":-0.75,"b":1,"nu":55.7},{"a":-0.7,"b":1,"nu":56.6},{"a":-0.65,"b":1,"nu":57.5},{"a":-0.6,"b":1,"nu":58.4},{"a":-0.55,"b":1,"nu":59.3},{"a":-0.5,"b":1,"nu":60.2},{"a":-0.45,"b":1,"nu":61.1},{"a":-0.4,"b":1,"nu":62.0},{"a":-0.35,"b":1,"nu":62.9},{"a":-0.3,"b":1,"nu":63.8},{"a":-0.25,"b":1,"nu":64.8},{"a":-0.2,"b":1,"nu":65.7},{"a":-0.15,"b":1,"nu":66.6},{"a":-0.1,"b":1,"nu":67.5},{"a":-0.05,"b":1,"nu":68.4},{"a":0,"b":1,"nu":69.3},{"a":0.05,"b":1,"nu":70.3},{"a":0.1,"b":1,"nu":71.2},{"a":0.15,"b":1,"nu":72.1},{"a":0.2,"b":1,"nu":73.0},{"a":0.25,"b":1,"nu":74.0},{"a":0.3,"b":1,"nu":74.9},{"a":0.35,"b":1,"nu":75.8},{"a":0.4,"b":1,"nu":76.8},{"a":0.45,"b":1,"nu":77.7},{"a":0.5,"b":1,"nu":78.6},{"a":0.55,"b":1,"nu":79.6},{"a":0.6,"b":1,"nu":80.5},{"a":0.65,"b":1,"nu":81.5},{"a":0.7,"b":1,"nu":82.4},{"a":0.75,"b":1,"nu":83.4},{"a":0.8,"b":1,"nu":84.3},{"a":0.85,"b":1,"nu":85.3},{"a":0.9,"b":1,"nu":86.2},{"a":0.95,"b":1,"nu":87.2},{"a":1,"b":1,"nu":88.1}
],
"contours":[
{"level":"46.0605","a":-1,"b":-0.308},{"level":"46.0605","a":-0.945,"b":-0.4},{"level":"46.0605","a":-0.88,"b":-0.5},{"level":"46.0605","a":-0.809,"b":-0.6},{"level":"46.0605","a":-0.732,"b":-0.7},{"level":"46.0605","a":-0.649,"b":-0.8},{"level":"46.0605","a":-0.561,"b":-0.9},{"level":"46.0605","a":-0.467,"b":-1},
{"level":"54.4897","a":-0.8205,"b":1},{"level":"54.4897","a":-0.8244,"b":0.9},{"level":"54.4897","a":-0.8238,"b":0.8},{"level":"54.4897","a":-0.8186,"b":0.7},{"level":"54.4897","a":-0.8086,"b":0.6},{"level":"54.4897","a":-0.7937,"b":0.5},{"level":"54.4897","a":-0.774,"b":0.4},{"level":"54.4897","a":-0.7493,"b":0.3},{"level":"54.4897","a":-0.7195,"b":0.2},{"level":"54.4897","a":-0.6846,"b":0.1},{"level":"54.4897","a":-0.6446,"b":0},{"level":"54.4897","a":-0.5993,"b":-0.1},{"level":"54.4897","a":-0.5486,"b":-0.2},{"level":"54.4897","a":-0.4925,"b":-0.3},{"level":"54.4897","a":-0.431,"b":-0.4},{"level":"54.4897","a":-0.364,"b":-0.5},{"level":"54.4897","a":-0.2915,"b":-0.6},{"level":"54.4897","a":-0.2133,"b":-0.7},{"level":"54.4897","a":-0.1296,"b":-0.8},{"level":"54.4897","a":-0.0401,"b":-0.9},{"level":"54.4897","a":0.0544,"b":-1},
{"level":"62.9188","a":-0.3508,"b":1},{"level":"62.9188","a":-0.3519,"b":0.9},{"level":"62.9188","a":-0.3485,"b":0.8},{"level":"62.9188","a":-0.3406,"b":0.7},{"level":"62.9188","a":-0.328,"b":0.6},{"level":"62.9188","a":-0.3106,"b":0.5},{"level":"62.9188","a":-0.2885,"b":0.4},{"level":"62.9188","a":-0.2614,"b":0.3},{"level":"62.9188","a":-0.2294,"b":0.2},{"level":"62.9188","a":-0.1923,"b":0.1},{"level":"62.9188","a":-0.1502,"b":0},{"level":"62.9188","a":-0.1029,"b":-0.1},{"level":"62.9188","a":-0.0504,"b":-0.2},{"level":"62.9188","a":0.0074,"b":-0.3},{"level":"62.9188","a":0.0705,"b":-0.4},{"level":"62.9188","a":0.139,"b":-0.5},{"level":"62.9188","a":0.2129,"b":-0.6},{"level":"62.9188","a":0.2923,"b":-0.7},{"level":"62.9188","a":0.3773,"b":-0.8},{"level":"62.9188","a":0.4677,"b":-0.9},{"level":"62.9188","a":0.5637,"b":-1},
{"level":"71.348","a":0.1094,"b":1},{"level":"71.348","a":0.1109,"b":0.9},{"level":"71.348","a":0.1168,"b":0.8},{"level":"71.348","a":0.1273,"b":0.7},{"level":"71.348","a":0.1423,"b":0.6},{"level":"71.348","a":0.162,"b":0.5},{"level":"71.348","a":0.1865,"b":0.4},{"level":"71.348","a":0.2158,"b":0.3},{"level":"71.348","a":0.2499,"b":0.2},{"level":"71.348","a":0.289,"b":0.1},{"level":"71.348","a":0.3331,"b":0},{"level":"71.348","a":0.3822,"b":-0.1},{"level":"71.348","a":0.4365,"b":-0.2},{"level":"71.348","a":0.4959,"b":-0.3},{"level":"71.348","a":0.5605,"b":-0.4},{"level":"71.348","a":0.6304,"b":-0.5},{"level":"71.348","a":0.7057,"b":-0.6},{"level":"71.348","a":0.7862,"b":-0.7},{"level":"71.348","a":0.8722,"b":-0.8},{"level":"71.348","a":0.9636,"b":-0.9},{"level":"71.348","a":1,"b":-0.9384},
{"level":"79.7772","a":0.5607,"b":1},{"level":"79.7772","a":0.5645,"b":0.9},{"level":"79.7772","a":0.5729,"b":0.8},{"level":"79.7772","a":0.5858,"b":0.7},{"level":"79.7772","a":0.6031,"b":0.6},{"level":"79.7772","a":0.6251,"b":0.5},{"level":"79.7772","a":0.6517,"b":0.4},{"level":"79.7772","a":0.683,"b":0.3},{"level":"79.7772","a":0.7191,"b":0.2},{"level":"79.7772","a":0.7601,"b":0.1},{"level":"79.7772","a":0.806,"b":0},{"level":"79.7772","a":0.8569,"b":-0.1},{"level":"79.7772","a":0.9127,"b":-0.2},{"level":"79.7772","a":0.9737,"b":-0.3},{"level":"79.7772","a":1,"b":-0.3408}
],
"labels":[
{"a":-0.758,"b":-0.628,"label":"46.0605"},
{"a":-0.57,"b":-0.128,"label":"54.4897"},
{"a":-0.079,"b":-0.117,"label":"62.9188"},
{"a":0.3845,"b":-0.077,"label":"71.348"},
{"a":0.695,"b":0.279,"label":"79.7772"}
],
"points":[
{"a":-1,"b":-1},{"a":0,"b":-1},{"a":1,"b":-1},
{"a":-1,"b":0},{"a":0,"b":0},{"a":1,"b":0},
{"a":-1,"b":1},{"a":0,"b":1},{"a":1,"b":1}
],
"reps":[{"a":0,"b":0,"n":"4"}]
},
"encoding":{
"x":{"field":"a","type":"quantitative","scale":{"domain":[-1,1],"nice":false,"zero":false},
"axis":{"values":[-1,-0.5,0,0.5,1],"format":".2f","labelExpr":"replace(datum.label,'\u2212','-')","title":"A: Reynolds","grid":false,"tickSize":9,"tickColor":"#444","domainColor":"#000","labelFont":"Liberation Serif","labelFontSize":16,"labelFontWeight":"bold","labelColor":"#000","labelPadding":5,"titleFont":"Liberation Serif","titleFontSize":19,"titleFontWeight":"bold","titleColor":"#000","titleX":218,"titleY":73,"titleBaseline":"alphabetic","titleAlign":"center"}},
"y":{"field":"b","type":"quantitative","scale":{"domain":[-1,1],"nice":false,"zero":false},
"axis":{"values":[-1,-0.5,0,0.5,1],"format":".2f","labelExpr":"replace(datum.label,'\u2212','-')","title":"B: Volume fraction","grid":false,"tickSize":11,"tickColor":"#444","domainColor":"#000","labelFont":"Liberation Serif","labelFontSize":16,"labelFontWeight":"bold","labelColor":"#000","labelPadding":5,"titleFont":"Liberation Serif","titleFontSize":17,"titleFontWeight":"bold","titleColor":"#000","titleX":-83,"titleY":145,"titleAngle":-90,"titleAlign":"center","titleBaseline":"middle"}}
},
"layer":[
{"data":{"name":"grid"},"mark":{"type":"point","shape":"M-1,-0.8H1V0.8H-1Z","size":132.25,"filled":true,"opacity":1,"strokeWidth":0,"clip":true},
"encoding":{"color":{"field":"nu","type":"quantitative","scale":{"domain":[37.7,50.3,62.9,75.5,88.1],"range":["#0000ff","#00ffff","#00ff00","#ffff00","#ff0000"],"interpolate":"rgb"},"legend":null}}},
{"data":{"name":"contours"},"mark":{"type":"line","color":"#000","strokeWidth":1.3,"clip":true,"interpolate":"catmull-rom"},
"encoding":{"detail":{"field":"level","type":"nominal"},"order":{"field":"b","type":"quantitative"}}},
{"data":{"name":"labels"},"transform":[{"filter":"length(datum.label) == 7"}],"mark":{"type":"point","shape":"M-1,-0.2177H1V0.2177H-1Z","size":3844,"filled":true,"fill":"#fff","stroke":"#000","strokeWidth":1,"opacity":1}},
{"data":{"name":"labels"},"transform":[{"filter":"length(datum.label) == 6"}],"mark":{"type":"point","shape":"M-1,-0.2547H1V0.2547H-1Z","size":2809,"filled":true,"fill":"#fff","stroke":"#000","strokeWidth":1,"opacity":1}},
{"data":{"name":"labels"},"mark":{"type":"text","font":"Liberation Serif","fontSize":16,"color":"#000","align":"center","baseline":"middle","dy":1},
"encoding":{"text":{"field":"label","type":"nominal"}}},
{"data":{"name":"points"},"mark":{"type":"point","shape":"circle","size":50,"filled":true,"fill":"#ff0000","stroke":"#500000","strokeWidth":1,"opacity":1}},
{"data":{"name":"reps"},"mark":{"type":"text","font":"Liberation Sans","fontSize":15,"fontWeight":"bold","color":"#000","align":"right","baseline":"middle","dx":-8,"dy":-3},
"encoding":{"text":{"field":"n","type":"nominal"}}}
]
}
